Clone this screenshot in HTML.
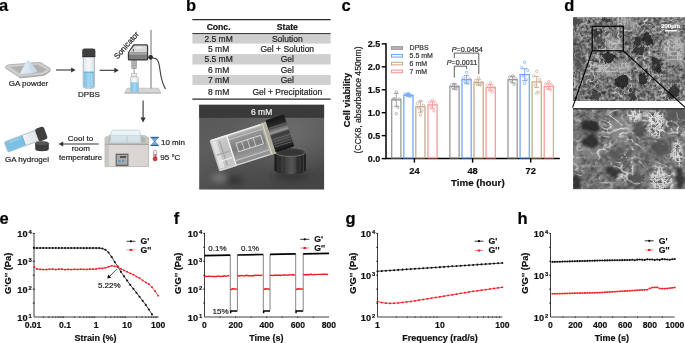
<!DOCTYPE html>
<html><head><meta charset="utf-8"><style>
html,body{margin:0;padding:0;background:#fff;}
body{width:685px;height:343px;overflow:hidden;}
svg{display:block;font-family:"Liberation Sans", sans-serif;filter:blur(0.3px);}
</style></head><body>
<svg width="685" height="343" viewBox="0 0 685 343">
<text x="-1.00" y="10.90" font-size="16.5" font-weight="bold" text-anchor="start" fill="#000" stroke="#000" stroke-width="0.2" >a</text>
<text x="185.90" y="10.90" font-size="16.5" font-weight="bold" text-anchor="start" fill="#000" stroke="#000" stroke-width="0.2" >b</text>
<text x="341.40" y="10.90" font-size="16.5" font-weight="bold" text-anchor="start" fill="#000" stroke="#000" stroke-width="0.2" >c</text>
<text x="564.30" y="10.90" font-size="16.5" font-weight="bold" text-anchor="start" fill="#000" stroke="#000" stroke-width="0.2" >d</text>
<text x="-0.60" y="223.50" font-size="16.5" font-weight="bold" text-anchor="start" fill="#000" stroke="#000" stroke-width="0.2" >e</text>
<text x="173.70" y="223.50" font-size="16.5" font-weight="bold" text-anchor="start" fill="#000" stroke="#000" stroke-width="0.2" >f</text>
<text x="345.40" y="223.50" font-size="16.5" font-weight="bold" text-anchor="start" fill="#000" stroke="#000" stroke-width="0.2" >g</text>
<text x="517.50" y="223.50" font-size="16.5" font-weight="bold" text-anchor="start" fill="#000" stroke="#000" stroke-width="0.2" >h</text>
<defs>
<linearGradient id="dishg" x1="0" y1="0" x2="0" y2="1">
  <stop offset="0" stop-color="#d4d4d4"/><stop offset="1" stop-color="#b4b4b4"/>
</linearGradient>
<linearGradient id="powg" x1="0" y1="0" x2="1" y2="0">
  <stop offset="0" stop-color="#e4edf6"/><stop offset="0.55" stop-color="#d6e4f2"/><stop offset="1" stop-color="#c2d4e8"/>
</linearGradient>
<linearGradient id="liqg" x1="0" y1="0" x2="1" y2="0">
  <stop offset="0" stop-color="#7cc0e6"/><stop offset="0.5" stop-color="#a6d6f0"/><stop offset="1" stop-color="#7cc0e6"/>
</linearGradient>
<linearGradient id="glassA" x1="0" y1="0" x2="1" y2="0">
  <stop offset="0" stop-color="#e2e6ea"/><stop offset="0.5" stop-color="#f6f8fa"/><stop offset="1" stop-color="#dde2e6"/>
</linearGradient>
<linearGradient id="bathg" x1="0" y1="0" x2="1" y2="0">
  <stop offset="0" stop-color="#cfccc8"/><stop offset="0.12" stop-color="#dedbd7"/><stop offset="1" stop-color="#d8d5d1"/>
</linearGradient>
<linearGradient id="lidg" x1="0" y1="0" x2="0" y2="1">
  <stop offset="0" stop-color="#eef5f7"/><stop offset="1" stop-color="#d2e6ec"/>
</linearGradient>
</defs>
<path d="M5.7,67 Q6,65.4 8,64.9 L38.5,62.4 Q40.5,62.3 42,63.3 L50.2,68.6 Q51.3,69.6 50,70.7 L45,74.1 Q44,74.9 42.5,75.1 L21,77.3 Q19.5,77.4 18.4,76.6 L6.5,68.9 Q5.5,68.1 5.7,67 Z" fill="#cdcdcd" stroke="#9c9c9c" stroke-width="0.7"/>
<path d="M10.5,67 L38,64.7 L46.6,69.5 L42,72.5 L21.2,74.6 Z" fill="#b0b0b0"/>
<path d="M21,77.3 L42.5,75.1 L45,74.1 L50,70.7 L50.6,71.3 L45.5,75 L42.6,76 L21,78.2 Q19.2,78.2 18.4,76.6 Z" fill="#a2a2a2"/>
<path d="M28,60.3 Q29,60.3 30.2,62.2 L37.4,71.4 L31.5,73.2 L19.7,74.2 L25.8,62.2 Q27,60.3 28,60.3 Z" fill="url(#powg)"/>
<path d="M28.4,60.5 L31.5,73.2 L37.4,71.4 L30.2,62.2 Z" fill="#c6d8ea" opacity="0.75"/>
<text x="28.50" y="86.20" font-size="8.0" font-weight="normal" text-anchor="middle" fill="#222" stroke="#222" stroke-width="0.2" >GA powder</text>
<line x1="56.0" y1="70.0" x2="72.1" y2="70.0" stroke="#333" stroke-width="1.1"/>
<path d="M75.6,70.0 L71.1,67.4 L71.1,72.6 Z" fill="#333"/>
<path d="M83.2,57 L94.4,57 L94.4,86 Q94.4,88.2 92.2,88.2 L85.4,88.2 Q83.2,88.2 83.2,86 Z" fill="url(#glassA)" stroke="#9aa0a6" stroke-width="0.7"/>
<path d="M83.6,72 L94,72 L94,86 Q94,87.8 92.2,87.8 L85.4,87.8 Q83.6,87.8 83.6,86 Z" fill="url(#liqg)"/>
<line x1="83.6" y1="72.1" x2="94" y2="72.1" stroke="#5aa6d6" stroke-width="0.9"/>
<line x1="91.8" y1="74" x2="91.8" y2="86" stroke="#d6eefa" stroke-width="0.6"/>
<path d="M82.2,50.8 Q82.2,48.6 84.6,48.6 L93,48.6 Q95.4,48.6 95.4,50.8 L95.4,56.9 L82.2,56.9 Z" fill="#3f3f3f"/>
<line x1="82.6" y1="56.6" x2="95" y2="56.6" stroke="#2a2a2a" stroke-width="0.8"/>
<text x="89.00" y="97.00" font-size="8.0" font-weight="normal" text-anchor="middle" fill="#222" stroke="#222" stroke-width="0.2" >DPBS</text>
<line x1="99.7" y1="70.3" x2="115.3" y2="70.3" stroke="#333" stroke-width="1.1"/>
<path d="M118.8,70.3 L114.3,67.7 L114.3,72.89999999999999 Z" fill="#333"/>
<path d="M124.6,92.8 L127,88.2 L158.5,88.2 L160.9,92.8 Z" fill="#d6d6d6" stroke="#a8a8a8" stroke-width="0.5"/>
<rect x="124.6" y="92.6" width="36.3" height="1.0" fill="#b0b0b0"/>
<rect x="150.4" y="29.8" width="1.6" height="59" fill="#b8b8b8"/>
<line x1="150.6" y1="30" x2="150.6" y2="88.5" stroke="#8e8e8e" stroke-width="0.4"/>
<path d="M152.5,58 C158,58 159,62 160,70 C161,78 162.5,84 165.5,89" fill="none" stroke="#3a3a3a" stroke-width="1.1"/>
<rect x="131.8" y="60.5" width="4.6" height="8.2" fill="#b8b8b8" stroke="#7a7a7a" stroke-width="0.5"/>
<line x1="132.5" y1="63" x2="135.7" y2="63" stroke="#888" stroke-width="0.5"/>
<line x1="132.5" y1="65.5" x2="135.7" y2="65.5" stroke="#888" stroke-width="0.5"/>
<line x1="134.1" y1="68.6" x2="134.1" y2="80" stroke="#888" stroke-width="0.8"/>
<rect x="131.6" y="73.6" width="5.2" height="3.2" fill="#e8ecef" stroke="#a0a6aa" stroke-width="0.5"/>
<path d="M130.4,78.2 Q130.4,76.7 132,76.7 L136.9,76.7 Q138.5,76.7 138.5,78.2 L138.5,91.6 Q138.5,92.5 137.6,92.5 L131.3,92.5 Q130.4,92.5 130.4,91.6 Z" fill="url(#glassA)" stroke="#a0a6aa" stroke-width="0.5"/>
<path d="M130.8,82.2 L138.1,82.2 L138.1,91.6 Q138.1,92.1 137.6,92.1 L131.3,92.1 Q130.8,92.1 130.8,91.6 Z" fill="url(#liqg)"/>
<path d="M134.2,44.3 L146.6,44.3 Q148.2,44.3 148.2,45.9 L148.2,59 Q148.2,60.5 146.6,60.5 L129.3,60.5 Q127.8,60.5 127.8,59 L127.8,53.4 Q127.8,52.4 128.5,51.5 L132.8,45 Q133.3,44.3 134.2,44.3 Z" fill="#3c3c3c"/>
<path d="M134.6,45.6 L146.4,45.6 Q146.9,45.6 146.9,46.2 L146.9,52.4 L129.1,52.4 L129.1,52.2 L133.8,46 Q134.1,45.6 134.6,45.6 Z" fill="#d9d9d9"/>
<rect x="129.1" y="52.4" width="17.8" height="6.8" fill="#7e7e7e"/>
<rect x="129.1" y="52.4" width="17.8" height="2.2" fill="#a8a8a8"/>
<rect x="135.5" y="47" width="7" height="1.6" fill="#eeeeee"/>
<line x1="133.4" y1="49" x2="133.4" y2="51.5" stroke="#333" stroke-width="0.8"/>
<circle cx="150.6" cy="57.3" r="2.4" fill="#2e2e2e"/>
<text transform="translate(117.4,59.4) rotate(-48.5)" font-size="7.9" fill="#222" stroke="#222" stroke-width="0.2">Sonicator</text>
<line x1="143.1" y1="100.5" x2="143.1" y2="118.5" stroke="#333" stroke-width="1.1"/>
<path d="M143.1,122.4 L140.5,117.6 L145.7,117.6 Z" fill="#333"/>
<path d="M105,137.6 L109.6,135.4 L144,135.4 L148.6,137.6 L148.6,166.6 L105,166.6 Z" fill="url(#bathg)" stroke="#a09d99" stroke-width="0.6"/>
<path d="M105,137.6 L109.6,135.4 L144,135.4 L148.6,137.6 L148.6,144.2 L105,144.2 Z" fill="#c9c7c4"/>
<path d="M108.8,138.2 L111.6,136.6 L142,136.6 L145.4,138.2 L145.4,142.6 L108.8,142.6 Z" fill="#b4b2af"/>
<line x1="105" y1="144.3" x2="148.6" y2="144.3" stroke="#8e8b88" stroke-width="0.8"/>
<rect x="105.3" y="144.7" width="3.6" height="21.6" fill="#c9c6c2"/>
<path d="M109.6,143 L111.2,131.6 Q111.6,130.2 113.2,130.2 L138.2,130.2 Q139.8,130.2 140.2,131.6 L141.4,143 Z" fill="url(#lidg)" stroke="#98b9c4" stroke-width="0.6" opacity="0.85"/>
<line x1="127" y1="136" x2="127" y2="142.8" stroke="#a6c4ce" stroke-width="0.6"/>
<line x1="112.4" y1="135.6" x2="139.6" y2="135.6" stroke="#b2cdd6" stroke-width="0.5"/>
<rect x="115.6" y="153.6" width="12.9" height="12.6" fill="#6a6a6a"/>
<rect x="116.8" y="155" width="10.5" height="9.6" fill="#a7a9ab"/>
<rect x="120" y="156" width="6" height="2" fill="#555"/>
<rect x="118.5" y="160.4" width="2" height="1.6" fill="#3f8fd0"/><rect x="122" y="160.4" width="2" height="1.6" fill="#3f8fd0"/>
<rect x="150.6" y="136.8" width="8.2" height="1.2" fill="#2f5f8f"/><rect x="150.6" y="144.8" width="8.2" height="1.2" fill="#2f5f8f"/>
<path d="M151.6,138 L157.8,138 L155.2,141.4 L157.8,144.8 L151.6,144.8 L154.2,141.4 Z" fill="#6ea8dc" stroke="#3d6f9f" stroke-width="0.5"/>
<text x="161.00" y="145.40" font-size="8.0" font-weight="normal" text-anchor="start" fill="#222" stroke="#222" stroke-width="0.2" >10 min</text>
<rect x="153.6" y="150" width="3" height="9" rx="1.5" fill="#f2f2f2" stroke="#7a7a7a" stroke-width="0.6"/>
<circle cx="155.1" cy="158.9" r="2.1" fill="#e0303a" stroke="#8a3a3a" stroke-width="0.5"/>
<rect x="154.5" y="154" width="1.2" height="4.5" fill="#e0303a"/>
<text x="160.30" y="160.00" font-size="8.0" font-weight="normal" text-anchor="start" fill="#222" stroke="#222" stroke-width="0.2" >95 °C</text>
<line x1="98.6" y1="144" x2="62" y2="144" stroke="#333" stroke-width="1.1"/>
<path d="M58.5,144 L63.2,141.4 L63.2,146.6 Z" fill="#333"/>
<text x="80.50" y="141.40" font-size="8.0" font-weight="normal" text-anchor="middle" fill="#222" stroke="#222" stroke-width="0.2" >Cool to</text>
<text x="80.80" y="150.80" font-size="8.0" font-weight="normal" text-anchor="middle" fill="#222" stroke="#222" stroke-width="0.2" >room</text>
<text x="80.60" y="160.40" font-size="8.0" font-weight="normal" text-anchor="middle" fill="#222" stroke="#222" stroke-width="0.2" >temperature</text>
<g transform="translate(7.4,146.6) rotate(-20.5)">
<path d="M0,-5.5 L32,-5.5 L32,5.5 L0,5.5 Q-1.4,5.5 -1.4,4 L-1.4,-4 Q-1.4,-5.5 0,-5.5 Z" fill="url(#glassA)" stroke="#9aa0a6" stroke-width="0.6"/>
<path d="M-1,-5.1 L17.5,-5.1 L17.5,5.1 L-1,5.1 Z" fill="#7cc0e6"/>
<line x1="17.5" y1="-5.1" x2="17.5" y2="5.1" stroke="#5aa6d6" stroke-width="0.7"/>
<line x1="3" y1="-3.2" x2="14" y2="-3.2" stroke="#b8e0f6" stroke-width="0.7"/>
<rect x="31.5" y="-6.6" width="9.4" height="13.2" rx="2.2" fill="#3f3f3f"/>
</g>
<path d="M35.2,143.6 L35.2,149 Q35.2,151.2 42,151.2 Q48.8,151.2 48.8,149 L48.8,143.6 Z" fill="#3c3c3c"/>
<ellipse cx="42" cy="143.6" rx="6.8" ry="2.2" fill="#555" stroke="#2a2a2a" stroke-width="0.5"/>
<text x="27.00" y="161.60" font-size="8.0" font-weight="normal" text-anchor="middle" fill="#222" stroke="#222" stroke-width="0.2" >GA hydrogel</text>
<rect x="192.4" y="34.1" width="138.2" height="9.5" fill="#cfcfcf"/>
<rect x="192.4" y="54.1" width="138.2" height="10.4" fill="#cfcfcf"/>
<rect x="192.4" y="74.9" width="138.2" height="10.0" fill="#cfcfcf"/>
<line x1="192.4" y1="19.6" x2="330.6" y2="19.6" stroke="#2a2a2a" stroke-width="1.2"/>
<line x1="192.4" y1="33.6" x2="330.6" y2="33.6" stroke="#2a2a2a" stroke-width="1.0"/>
<line x1="192.4" y1="99.1" x2="330.6" y2="99.1" stroke="#2a2a2a" stroke-width="1.2"/>
<text x="218.60" y="30.00" font-size="8.6" font-weight="bold" text-anchor="middle" fill="#111" stroke="#111" stroke-width="0.2" >Conc.</text>
<text x="287.30" y="30.00" font-size="8.6" font-weight="bold" text-anchor="middle" fill="#111" stroke="#111" stroke-width="0.2" >State</text>
<text x="218.60" y="41.80" font-size="8.5" font-weight="normal" text-anchor="middle" fill="#222" stroke="#222" stroke-width="0.2" >2.5 mM</text>
<text x="287.30" y="41.80" font-size="8.5" font-weight="normal" text-anchor="middle" fill="#222" stroke="#222" stroke-width="0.2" >Solution</text>
<text x="218.60" y="52.00" font-size="8.5" font-weight="normal" text-anchor="middle" fill="#222" stroke="#222" stroke-width="0.2" >5 mM</text>
<text x="287.30" y="52.00" font-size="8.5" font-weight="normal" text-anchor="middle" fill="#222" stroke="#222" stroke-width="0.2" >Gel + Solution</text>
<text x="218.60" y="62.30" font-size="8.5" font-weight="normal" text-anchor="middle" fill="#222" stroke="#222" stroke-width="0.2" >5.5 mM</text>
<text x="287.30" y="62.30" font-size="8.5" font-weight="normal" text-anchor="middle" fill="#222" stroke="#222" stroke-width="0.2" >Gel</text>
<text x="218.60" y="72.70" font-size="8.5" font-weight="normal" text-anchor="middle" fill="#222" stroke="#222" stroke-width="0.2" >6 mM</text>
<text x="287.30" y="72.70" font-size="8.5" font-weight="normal" text-anchor="middle" fill="#222" stroke="#222" stroke-width="0.2" >Gel</text>
<text x="218.60" y="83.00" font-size="8.5" font-weight="normal" text-anchor="middle" fill="#222" stroke="#222" stroke-width="0.2" >7 mM</text>
<text x="287.30" y="83.00" font-size="8.5" font-weight="normal" text-anchor="middle" fill="#222" stroke="#222" stroke-width="0.2" >Gel</text>
<text x="218.60" y="95.10" font-size="8.5" font-weight="normal" text-anchor="middle" fill="#222" stroke="#222" stroke-width="0.2" >8 mM</text>
<text x="287.30" y="95.10" font-size="8.5" font-weight="normal" text-anchor="middle" fill="#222" stroke="#222" stroke-width="0.2" >Gel + Precipitation</text>
<defs>
<linearGradient id="phbg" x1="0" y1="0" x2="0.6" y2="1">
  <stop offset="0" stop-color="#565656"/>
  <stop offset="0.4" stop-color="#5e5e5e"/>
  <stop offset="1" stop-color="#454545"/>
</linearGradient>
<linearGradient id="glass" x1="0" y1="0" x2="0" y2="1">
  <stop offset="0" stop-color="#d4d4d4"/>
  <stop offset="0.15" stop-color="#a0a0a0"/>
  <stop offset="0.5" stop-color="#7e7e7e"/>
  <stop offset="0.8" stop-color="#a0a0a0"/>
  <stop offset="1" stop-color="#8e8e8e"/>
</linearGradient>
<linearGradient id="capg" x1="0" y1="0" x2="0" y2="1">
  <stop offset="0" stop-color="#161616"/>
  <stop offset="0.2" stop-color="#262626"/>
  <stop offset="0.32" stop-color="#5a5a5a"/>
  <stop offset="0.42" stop-color="#9a9a9a"/>
  <stop offset="0.5" stop-color="#3a3a3a"/>
  <stop offset="0.62" stop-color="#4a4a4a"/>
  <stop offset="0.85" stop-color="#2a2a2a"/>
  <stop offset="1" stop-color="#111"/>
</linearGradient>
<linearGradient id="cap2" x1="0" y1="0" x2="1" y2="0">
  <stop offset="0" stop-color="#1b1b1b"/>
  <stop offset="0.35" stop-color="#3c3c3c"/>
  <stop offset="0.55" stop-color="#5a5a5a"/>
  <stop offset="0.75" stop-color="#2b2b2b"/>
  <stop offset="1" stop-color="#202020"/>
</linearGradient>
<radialGradient id="phl" cx="0.75" cy="0.35" r="0.5">
  <stop offset="0" stop-color="#7a7a7a" stop-opacity="0.6"/>
  <stop offset="1" stop-color="#7a7a7a" stop-opacity="0"/>
</radialGradient>
<clipPath id="phc"><rect x="199.1" y="104.6" width="125.2" height="85.1"/></clipPath>
<filter id="pb1" x="-50%" y="-50%" width="200%" height="200%"><feGaussianBlur stdDeviation="0.6"/></filter>
<filter id="pb3" x="-100%" y="-100%" width="300%" height="300%"><feGaussianBlur stdDeviation="3"/></filter>
</defs>
<g clip-path="url(#phc)">
<rect x="199.1" y="104.6" width="125.2" height="85.1" fill="url(#phbg)"/>
<rect x="199.1" y="104.6" width="125.2" height="85.1" fill="url(#phl)"/>
<rect x="199.1" y="104.6" width="125.2" height="13.2" fill="#3a3a3a"/>
<ellipse cx="234" cy="180" rx="9" ry="5" fill="#2e2e2e" filter="url(#pb3)" opacity="0.8"/>
<ellipse cx="220" cy="178" rx="8" ry="4" fill="#a0a0a0" filter="url(#pb3)" opacity="0.55"/>
<ellipse cx="291" cy="176" rx="17" ry="4" fill="#2a2a2a" filter="url(#pb3)" opacity="0.7"/>
<path d="M274.4,152 V170 A15.8,4.2 0 0 0 306,170 V152 Z" fill="url(#cap2)"/>
<line x1="278" y1="155" x2="278" y2="172" stroke="#4c4c4c" stroke-width="0.8" opacity="0.8"/>
<line x1="282" y1="155" x2="282" y2="172" stroke="#4c4c4c" stroke-width="0.8" opacity="0.8"/>
<line x1="286.5" y1="155" x2="286.5" y2="172" stroke="#4c4c4c" stroke-width="0.8" opacity="0.8"/>
<line x1="291" y1="155" x2="291" y2="172" stroke="#4c4c4c" stroke-width="0.8" opacity="0.8"/>
<line x1="295.5" y1="155" x2="295.5" y2="172" stroke="#4c4c4c" stroke-width="0.8" opacity="0.8"/>
<line x1="300" y1="155" x2="300" y2="172" stroke="#4c4c4c" stroke-width="0.8" opacity="0.8"/>
<line x1="303.5" y1="155" x2="303.5" y2="172" stroke="#4c4c4c" stroke-width="0.8" opacity="0.8"/>
<ellipse cx="290.2" cy="152" rx="15.8" ry="4.4" fill="#404040" stroke="#7a7a7a" stroke-width="0.8"/>
<ellipse cx="290.2" cy="152.6" rx="12.5" ry="3" fill="#353535"/>
<g transform="translate(214.8,155.8) rotate(-17.8)">
<rect x="0" y="-16.4" width="60" height="32.8" rx="1.5" fill="url(#glass)" opacity="0.92"/>
<rect x="-0.5" y="-16.4" width="18" height="32.8" rx="1.5" fill="#d6d6d6" opacity="0.75"/>
<rect x="1" y="-14" width="5" height="28" fill="#f2f2f2" opacity="0.6"/>
<line x1="17.5" y1="-16" x2="17.5" y2="16" stroke="#f8f8f8" stroke-width="1.3"/>
<line x1="9" y1="-13" x2="9" y2="13" stroke="#9a9a9a" stroke-width="0.9"/>
<line x1="2" y1="0" x2="16" y2="0" stroke="#a8a8a8" stroke-width="1.4"/>
<line x1="2" y1="7" x2="16" y2="7" stroke="#f4f4f4" stroke-width="1"/>
<line x1="1" y1="-15.6" x2="59" y2="-15.6" stroke="#f2f2f2" stroke-width="1.3"/>
<line x1="18" y1="-11" x2="58" y2="-11" stroke="#d0d0d0" stroke-width="0.8"/>
<line x1="1" y1="15.6" x2="59" y2="15.6" stroke="#dadada" stroke-width="1.1"/>
<line x1="18" y1="11" x2="58" y2="11" stroke="#c8c8c8" stroke-width="0.9"/>
<rect x="24" y="-5.5" width="26" height="9" fill="none" stroke="#e4e4e4" stroke-width="0.8"/>
<line x1="30" y1="-5.5" x2="30" y2="3.5" stroke="#dcdcdc" stroke-width="0.7"/>
<line x1="36" y1="-5.5" x2="36" y2="3.5" stroke="#dcdcdc" stroke-width="0.7"/>
<line x1="42" y1="-5.5" x2="42" y2="3.5" stroke="#dcdcdc" stroke-width="0.7"/>
<rect x="53" y="-16.8" width="6.5" height="33.2" fill="#b4b1a2" opacity="0.85"/>
<line x1="55" y1="-16" x2="55" y2="16" stroke="#e8e4d2" stroke-width="0.8"/>
<rect x="59" y="-18.2" width="19.5" height="33.6" rx="1.2" fill="url(#capg)"/>
<line x1="60" y1="-9.5" x2="78" y2="-9.5" stroke="#7a7a7a" stroke-width="0.7" opacity="0.8"/>
<line x1="60" y1="-7" x2="78" y2="-7" stroke="#7a7a7a" stroke-width="0.7" opacity="0.8"/>
<line x1="60" y1="2.5" x2="78" y2="2.5" stroke="#7a7a7a" stroke-width="0.7" opacity="0.8"/>
<line x1="60" y1="5" x2="78" y2="5" stroke="#7a7a7a" stroke-width="0.7" opacity="0.8"/>
<line x1="60" y1="7.5" x2="78" y2="7.5" stroke="#7a7a7a" stroke-width="0.7" opacity="0.8"/>
<line x1="60" y1="10" x2="78" y2="10" stroke="#7a7a7a" stroke-width="0.7" opacity="0.8"/>
</g>
</g>
<text x="261.60" y="115.30" font-size="8.5" font-weight="normal" text-anchor="middle" fill="#f2f2f2" stroke="#f2f2f2" stroke-width="0.2" >6 mM</text>
<path d="M386.0,43.25 V158.60 H559.8" fill="none" stroke="#000" stroke-width="1.5"/>
<line x1="381.7" y1="158.60" x2="386.0" y2="158.60" stroke="#000" stroke-width="1.4"/>
<text x="380.20" y="161.90" font-size="9.0" font-weight="bold" text-anchor="end" fill="#111" stroke="#111" stroke-width="0.2" >0.0</text>
<line x1="381.7" y1="135.65" x2="386.0" y2="135.65" stroke="#000" stroke-width="1.4"/>
<text x="380.20" y="138.95" font-size="9.0" font-weight="bold" text-anchor="end" fill="#111" stroke="#111" stroke-width="0.2" >0.5</text>
<line x1="381.7" y1="112.70" x2="386.0" y2="112.70" stroke="#000" stroke-width="1.4"/>
<text x="380.20" y="116.00" font-size="9.0" font-weight="bold" text-anchor="end" fill="#111" stroke="#111" stroke-width="0.2" >1.0</text>
<line x1="381.7" y1="89.75" x2="386.0" y2="89.75" stroke="#000" stroke-width="1.4"/>
<text x="380.20" y="93.05" font-size="9.0" font-weight="bold" text-anchor="end" fill="#111" stroke="#111" stroke-width="0.2" >1.5</text>
<line x1="381.7" y1="66.80" x2="386.0" y2="66.80" stroke="#000" stroke-width="1.4"/>
<text x="380.20" y="70.10" font-size="9.0" font-weight="bold" text-anchor="end" fill="#111" stroke="#111" stroke-width="0.2" >2.0</text>
<line x1="381.7" y1="43.85" x2="386.0" y2="43.85" stroke="#000" stroke-width="1.4"/>
<text x="380.20" y="47.15" font-size="9.0" font-weight="bold" text-anchor="end" fill="#111" stroke="#111" stroke-width="0.2" >2.5</text>
<line x1="414.4" y1="158.6" x2="414.4" y2="162.6" stroke="#000" stroke-width="1.4"/>
<text x="414.40" y="173.50" font-size="9.3" font-weight="bold" text-anchor="middle" fill="#111" stroke="#111" stroke-width="0.2" >24</text>
<line x1="472.6" y1="158.6" x2="472.6" y2="162.6" stroke="#000" stroke-width="1.4"/>
<text x="472.60" y="173.50" font-size="9.3" font-weight="bold" text-anchor="middle" fill="#111" stroke="#111" stroke-width="0.2" >48</text>
<line x1="530.7" y1="158.6" x2="530.7" y2="162.6" stroke="#000" stroke-width="1.4"/>
<text x="530.70" y="173.50" font-size="9.3" font-weight="bold" text-anchor="middle" fill="#111" stroke="#111" stroke-width="0.2" >72</text>
<text x="477.80" y="185.90" font-size="9.8" font-weight="bold" text-anchor="middle" fill="#111" stroke="#111" stroke-width="0.2" >Time (hour)</text>
<text transform="translate(350.2,100.0) rotate(-90)" font-size="9.3" font-weight="bold" text-anchor="middle" fill="#111" stroke="#111" stroke-width="0.2">Cell viability</text>
<text transform="translate(361.0,100.0) rotate(-90)" font-size="8.6" text-anchor="middle" fill="#222" stroke="#222" stroke-width="0.2">(CCK8, absorbance 450nm)</text>
<rect x="391.70" y="99.85" width="9.2" height="57.95" fill="#fff" stroke="#9a9a9a" stroke-width="1.3"/>
<path d="M396.30,99.85 V93.42 M393.80,93.42 H398.80 M396.30,99.85 V106.27 M393.80,106.27 H398.80" stroke="#9a9a9a" stroke-width="0.9" fill="none"/>
<circle cx="396.30" cy="92.05" r="1.25" fill="none" stroke="#9a9a9a" stroke-width="0.7"/>
<circle cx="393.30" cy="98.93" r="1.25" fill="none" stroke="#9a9a9a" stroke-width="0.7"/>
<circle cx="399.30" cy="98.93" r="1.25" fill="none" stroke="#9a9a9a" stroke-width="0.7"/>
<circle cx="394.80" cy="98.93" r="1.25" fill="none" stroke="#9a9a9a" stroke-width="0.7"/>
<circle cx="397.80" cy="107.19" r="1.25" fill="none" stroke="#9a9a9a" stroke-width="0.7"/>
<circle cx="396.30" cy="113.62" r="1.25" fill="none" stroke="#9a9a9a" stroke-width="0.7"/>
<rect x="403.80" y="95.26" width="9.2" height="62.54" fill="#fff" stroke="#76a9f5" stroke-width="1.3"/>
<path d="M408.40,95.26 V93.88 M405.90,93.88 H410.90 M408.40,95.26 V96.64 M405.90,96.64 H410.90" stroke="#76a9f5" stroke-width="0.9" fill="none"/>
<circle cx="408.40" cy="94.34" r="1.25" fill="none" stroke="#76a9f5" stroke-width="0.7"/>
<circle cx="405.40" cy="93.88" r="1.25" fill="none" stroke="#76a9f5" stroke-width="0.7"/>
<circle cx="411.40" cy="95.72" r="1.25" fill="none" stroke="#76a9f5" stroke-width="0.7"/>
<circle cx="406.90" cy="94.80" r="1.25" fill="none" stroke="#76a9f5" stroke-width="0.7"/>
<circle cx="409.90" cy="96.18" r="1.25" fill="none" stroke="#76a9f5" stroke-width="0.7"/>
<circle cx="408.40" cy="93.42" r="1.25" fill="none" stroke="#76a9f5" stroke-width="0.7"/>
<rect x="415.80" y="106.73" width="9.2" height="51.07" fill="#fff" stroke="#c9aa8f" stroke-width="1.3"/>
<path d="M420.40,106.73 V101.22 M417.90,101.22 H422.90 M420.40,106.73 V112.24 M417.90,112.24 H422.90" stroke="#c9aa8f" stroke-width="0.9" fill="none"/>
<circle cx="420.40" cy="101.22" r="1.25" fill="none" stroke="#c9aa8f" stroke-width="0.7"/>
<circle cx="417.40" cy="103.52" r="1.25" fill="none" stroke="#c9aa8f" stroke-width="0.7"/>
<circle cx="423.40" cy="105.36" r="1.25" fill="none" stroke="#c9aa8f" stroke-width="0.7"/>
<circle cx="418.90" cy="108.11" r="1.25" fill="none" stroke="#c9aa8f" stroke-width="0.7"/>
<circle cx="421.90" cy="110.41" r="1.25" fill="none" stroke="#c9aa8f" stroke-width="0.7"/>
<circle cx="420.40" cy="115.00" r="1.25" fill="none" stroke="#c9aa8f" stroke-width="0.7"/>
<rect x="427.90" y="104.90" width="9.2" height="52.90" fill="#fff" stroke="#f59c9c" stroke-width="1.3"/>
<path d="M432.50,104.90 V101.22 M430.00,101.22 H435.00 M432.50,104.90 V108.57 M430.00,108.57 H435.00" stroke="#f59c9c" stroke-width="0.9" fill="none"/>
<circle cx="432.50" cy="100.31" r="1.25" fill="none" stroke="#f59c9c" stroke-width="0.7"/>
<circle cx="429.50" cy="102.14" r="1.25" fill="none" stroke="#f59c9c" stroke-width="0.7"/>
<circle cx="435.50" cy="103.52" r="1.25" fill="none" stroke="#f59c9c" stroke-width="0.7"/>
<circle cx="431.00" cy="107.19" r="1.25" fill="none" stroke="#f59c9c" stroke-width="0.7"/>
<circle cx="434.00" cy="110.86" r="1.25" fill="none" stroke="#f59c9c" stroke-width="0.7"/>
<rect x="449.90" y="86.54" width="9.2" height="71.26" fill="#fff" stroke="#9a9a9a" stroke-width="1.3"/>
<path d="M454.50,86.54 V83.78 M452.00,83.78 H457.00 M454.50,86.54 V89.29 M452.00,89.29 H457.00" stroke="#9a9a9a" stroke-width="0.9" fill="none"/>
<circle cx="454.50" cy="84.24" r="1.25" fill="none" stroke="#9a9a9a" stroke-width="0.7"/>
<circle cx="451.50" cy="85.16" r="1.25" fill="none" stroke="#9a9a9a" stroke-width="0.7"/>
<circle cx="457.50" cy="86.54" r="1.25" fill="none" stroke="#9a9a9a" stroke-width="0.7"/>
<circle cx="453.00" cy="87.45" r="1.25" fill="none" stroke="#9a9a9a" stroke-width="0.7"/>
<circle cx="456.00" cy="88.83" r="1.25" fill="none" stroke="#9a9a9a" stroke-width="0.7"/>
<rect x="462.00" y="79.65" width="9.2" height="78.15" fill="#fff" stroke="#76a9f5" stroke-width="1.3"/>
<path d="M466.60,79.65 V75.52 M464.10,75.52 H469.10 M466.60,79.65 V83.78 M464.10,83.78 H469.10" stroke="#76a9f5" stroke-width="0.9" fill="none"/>
<circle cx="466.60" cy="72.31" r="1.25" fill="none" stroke="#76a9f5" stroke-width="0.7"/>
<circle cx="463.60" cy="77.82" r="1.25" fill="none" stroke="#76a9f5" stroke-width="0.7"/>
<circle cx="469.60" cy="79.19" r="1.25" fill="none" stroke="#76a9f5" stroke-width="0.7"/>
<circle cx="465.10" cy="81.49" r="1.25" fill="none" stroke="#76a9f5" stroke-width="0.7"/>
<circle cx="468.10" cy="82.86" r="1.25" fill="none" stroke="#76a9f5" stroke-width="0.7"/>
<rect x="474.00" y="82.41" width="9.2" height="75.39" fill="#fff" stroke="#c9aa8f" stroke-width="1.3"/>
<path d="M478.60,82.41 V79.65 M476.10,79.65 H481.10 M478.60,82.41 V85.16 M476.10,85.16 H481.10" stroke="#c9aa8f" stroke-width="0.9" fill="none"/>
<circle cx="478.60" cy="77.82" r="1.25" fill="none" stroke="#c9aa8f" stroke-width="0.7"/>
<circle cx="475.60" cy="80.57" r="1.25" fill="none" stroke="#c9aa8f" stroke-width="0.7"/>
<circle cx="481.60" cy="82.86" r="1.25" fill="none" stroke="#c9aa8f" stroke-width="0.7"/>
<circle cx="477.10" cy="84.24" r="1.25" fill="none" stroke="#c9aa8f" stroke-width="0.7"/>
<circle cx="480.10" cy="85.16" r="1.25" fill="none" stroke="#c9aa8f" stroke-width="0.7"/>
<rect x="486.10" y="87.45" width="9.2" height="70.34" fill="#fff" stroke="#f59c9c" stroke-width="1.3"/>
<path d="M490.70,87.45 V84.70 M488.20,84.70 H493.20 M490.70,87.45 V90.21 M488.20,90.21 H493.20" stroke="#f59c9c" stroke-width="0.9" fill="none"/>
<circle cx="490.70" cy="82.86" r="1.25" fill="none" stroke="#f59c9c" stroke-width="0.7"/>
<circle cx="487.70" cy="85.16" r="1.25" fill="none" stroke="#f59c9c" stroke-width="0.7"/>
<circle cx="493.70" cy="87.45" r="1.25" fill="none" stroke="#f59c9c" stroke-width="0.7"/>
<circle cx="489.20" cy="89.75" r="1.25" fill="none" stroke="#f59c9c" stroke-width="0.7"/>
<circle cx="492.20" cy="92.05" r="1.25" fill="none" stroke="#f59c9c" stroke-width="0.7"/>
<rect x="508.00" y="79.65" width="9.2" height="78.15" fill="#fff" stroke="#9a9a9a" stroke-width="1.3"/>
<path d="M512.60,79.65 V76.44 M510.10,76.44 H515.10 M512.60,79.65 V82.86 M510.10,82.86 H515.10" stroke="#9a9a9a" stroke-width="0.9" fill="none"/>
<circle cx="512.60" cy="75.98" r="1.25" fill="none" stroke="#9a9a9a" stroke-width="0.7"/>
<circle cx="509.60" cy="76.90" r="1.25" fill="none" stroke="#9a9a9a" stroke-width="0.7"/>
<circle cx="515.60" cy="78.73" r="1.25" fill="none" stroke="#9a9a9a" stroke-width="0.7"/>
<circle cx="511.10" cy="80.57" r="1.25" fill="none" stroke="#9a9a9a" stroke-width="0.7"/>
<circle cx="514.10" cy="84.24" r="1.25" fill="none" stroke="#9a9a9a" stroke-width="0.7"/>
<rect x="520.10" y="74.60" width="9.2" height="83.20" fill="#fff" stroke="#76a9f5" stroke-width="1.3"/>
<path d="M524.70,74.60 V68.64 M522.20,68.64 H527.20 M524.70,74.60 V80.57 M522.20,80.57 H527.20" stroke="#76a9f5" stroke-width="0.9" fill="none"/>
<circle cx="524.70" cy="62.21" r="1.25" fill="none" stroke="#76a9f5" stroke-width="0.7"/>
<circle cx="521.70" cy="67.72" r="1.25" fill="none" stroke="#76a9f5" stroke-width="0.7"/>
<circle cx="527.70" cy="70.47" r="1.25" fill="none" stroke="#76a9f5" stroke-width="0.7"/>
<circle cx="523.20" cy="75.98" r="1.25" fill="none" stroke="#76a9f5" stroke-width="0.7"/>
<circle cx="526.20" cy="79.65" r="1.25" fill="none" stroke="#76a9f5" stroke-width="0.7"/>
<circle cx="524.70" cy="83.32" r="1.25" fill="none" stroke="#76a9f5" stroke-width="0.7"/>
<rect x="532.10" y="81.95" width="9.2" height="75.85" fill="#fff" stroke="#c9aa8f" stroke-width="1.3"/>
<path d="M536.70,81.95 V76.44 M534.20,76.44 H539.20 M536.70,81.95 V87.45 M534.20,87.45 H539.20" stroke="#c9aa8f" stroke-width="0.9" fill="none"/>
<circle cx="536.70" cy="71.39" r="1.25" fill="none" stroke="#c9aa8f" stroke-width="0.7"/>
<circle cx="533.70" cy="75.98" r="1.25" fill="none" stroke="#c9aa8f" stroke-width="0.7"/>
<circle cx="539.70" cy="79.65" r="1.25" fill="none" stroke="#c9aa8f" stroke-width="0.7"/>
<circle cx="535.20" cy="85.16" r="1.25" fill="none" stroke="#c9aa8f" stroke-width="0.7"/>
<circle cx="538.20" cy="92.05" r="1.25" fill="none" stroke="#c9aa8f" stroke-width="0.7"/>
<circle cx="536.70" cy="93.42" r="1.25" fill="none" stroke="#c9aa8f" stroke-width="0.7"/>
<rect x="544.20" y="86.54" width="9.2" height="71.26" fill="#fff" stroke="#f59c9c" stroke-width="1.3"/>
<path d="M548.80,86.54 V83.78 M546.30,83.78 H551.30 M548.80,86.54 V89.29 M546.30,89.29 H551.30" stroke="#f59c9c" stroke-width="0.9" fill="none"/>
<circle cx="548.80" cy="81.49" r="1.25" fill="none" stroke="#f59c9c" stroke-width="0.7"/>
<circle cx="545.80" cy="83.78" r="1.25" fill="none" stroke="#f59c9c" stroke-width="0.7"/>
<circle cx="551.80" cy="85.16" r="1.25" fill="none" stroke="#f59c9c" stroke-width="0.7"/>
<circle cx="547.30" cy="87.45" r="1.25" fill="none" stroke="#f59c9c" stroke-width="0.7"/>
<circle cx="550.30" cy="89.75" r="1.25" fill="none" stroke="#f59c9c" stroke-width="0.7"/>
<rect x="391.5" y="46.70" width="11.0" height="2.6" fill="#bbb" stroke="#9a9a9a" stroke-width="1.1"/>
<text x="409.60" y="50.30" font-size="7.0" font-weight="normal" text-anchor="start" fill="#333" stroke="#333" stroke-width="0.2" >DPBS</text>
<rect x="391.5" y="54.50" width="11.0" height="2.6" fill="#fff" stroke="#76a9f5" stroke-width="1.1"/>
<text x="409.60" y="58.10" font-size="7.0" font-weight="normal" text-anchor="start" fill="#333" stroke="#333" stroke-width="0.2" >5.5 mM</text>
<rect x="391.5" y="62.30" width="11.0" height="2.6" fill="#fff" stroke="#c9aa8f" stroke-width="1.1"/>
<text x="409.60" y="65.90" font-size="7.0" font-weight="normal" text-anchor="start" fill="#333" stroke="#333" stroke-width="0.2" >6 mM</text>
<rect x="391.5" y="70.10" width="11.0" height="2.6" fill="#fff" stroke="#f59c9c" stroke-width="1.1"/>
<text x="409.60" y="73.70" font-size="7.0" font-weight="normal" text-anchor="start" fill="#333" stroke="#333" stroke-width="0.2" >7 mM</text>
<path d="M454.3,77.6 V66.2 H466.6 V68.9" fill="none" stroke="#333" stroke-width="0.8"/>
<path d="M454.3,58.0 V53.1 H478.8 V74.1" fill="none" stroke="#333" stroke-width="0.8"/>
<text x="446.8" y="64.5" font-size="7.2" fill="#2a2a2a" stroke="#2a2a2a" stroke-width="0.2"><tspan font-style="italic">P</tspan>=0.0011</text>
<text x="451.7" y="52.2" font-size="7.2" fill="#2a2a2a" stroke="#2a2a2a" stroke-width="0.2"><tspan font-style="italic">P</tspan>=0.0454</text>
<defs>
<filter id="semMid" x="0" y="0" width="1" height="1" filterUnits="objectBoundingBox" color-interpolation-filters="sRGB">
  <feTurbulence type="fractalNoise" baseFrequency="0.22" numOctaves="3" seed="2" result="n"/>
  <feColorMatrix in="n" type="matrix" values="0.33 0.33 0.33 0 0  0.33 0.33 0.33 0 0  0.33 0.33 0.33 0 0  0 0 0 0 1" result="g"/>
  <feComponentTransfer in="g"><feFuncR type="linear" slope="2.2" intercept="-0.6"/><feFuncG type="linear" slope="2.2" intercept="-0.6"/><feFuncB type="linear" slope="2.2" intercept="-0.6"/></feComponentTransfer>
</filter>
<filter id="semVein1" x="0" y="0" width="1" height="1" filterUnits="objectBoundingBox" color-interpolation-filters="sRGB">
  <feTurbulence type="turbulence" baseFrequency="0.16" numOctaves="2" seed="4" result="t"/>
  <feColorMatrix in="t" type="matrix" values="0 0 0 0 1  0 0 0 0 1  0 0 0 0 1  -6 0 0 0 1.3" result="v"/>
  <feTurbulence type="fractalNoise" baseFrequency="0.06" numOctaves="2" seed="17" result="m"/>
  <feColorMatrix in="m" type="matrix" values="0 0 0 0 0  0 0 0 0 0  0 0 0 0 0  3 0 0 0 -0.9" result="ma"/>
  <feComposite in="v" in2="ma" operator="in"/>
</filter>
<filter id="semVein2" x="0" y="0" width="1" height="1" filterUnits="objectBoundingBox" color-interpolation-filters="sRGB">
  <feTurbulence type="turbulence" baseFrequency="0.09 0.12" numOctaves="2" seed="12" result="t"/>
  <feColorMatrix in="t" type="matrix" values="0 0 0 0 1  0 0 0 0 1  0 0 0 0 1  -6 0 0 0 1.25" result="v"/>
  <feTurbulence type="fractalNoise" baseFrequency="0.05" numOctaves="2" seed="23" result="m"/>
  <feColorMatrix in="m" type="matrix" values="0 0 0 0 0  0 0 0 0 0  0 0 0 0 0  3 0 0 0 -1.0" result="ma"/>
  <feComposite in="v" in2="ma" operator="in"/>
</filter>
<filter id="blobF" x="-50%" y="-50%" width="200%" height="200%" color-interpolation-filters="sRGB">
  <feTurbulence type="fractalNoise" baseFrequency="0.15" numOctaves="3" seed="5" result="t"/>
  <feDisplacementMap in="SourceGraphic" in2="t" scale="9" xChannelSelector="R" yChannelSelector="G" result="d"/>
  <feGaussianBlur in="d" stdDeviation="0.45"/>
</filter>
<filter id="semMid2" x="0" y="0" width="1" height="1" filterUnits="objectBoundingBox" color-interpolation-filters="sRGB">
  <feTurbulence type="fractalNoise" baseFrequency="0.35" numOctaves="3" seed="9" result="n"/>
  <feColorMatrix in="n" type="matrix" values="0.33 0.33 0.33 0 0  0.33 0.33 0.33 0 0  0.33 0.33 0.33 0 0  0 0 0 0 1" result="g"/>
  <feComponentTransfer in="g"><feFuncR type="linear" slope="3" intercept="-1.0"/><feFuncG type="linear" slope="3" intercept="-1.0"/><feFuncB type="linear" slope="3" intercept="-1.0"/></feComponentTransfer>
</filter>
<filter id="blobF2" x="-50%" y="-50%" width="200%" height="200%" color-interpolation-filters="sRGB">
  <feTurbulence type="fractalNoise" baseFrequency="0.08" numOctaves="2" seed="8" result="t"/>
  <feDisplacementMap in="SourceGraphic" in2="t" scale="9" xChannelSelector="R" yChannelSelector="G" result="d"/>
  <feGaussianBlur in="d" stdDeviation="1.3"/>
</filter>
<filter id="fibF" x="-50%" y="-50%" width="200%" height="200%" color-interpolation-filters="sRGB">
  <feTurbulence type="fractalNoise" baseFrequency="0.1" numOctaves="2" seed="6" result="t"/>
  <feDisplacementMap in="SourceGraphic" in2="t" scale="10" xChannelSelector="R" yChannelSelector="G" result="d"/>
  <feGaussianBlur in="d" stdDeviation="1.5" result="b"/>
  <feTurbulence type="turbulence" baseFrequency="0.25" numOctaves="2" seed="31" result="t2"/>
  <feColorMatrix in="t2" type="matrix" values="0 0 0 0 0  0 0 0 0 0  0 0 0 0 0  -4 0 0 0 1.6" result="m"/>
  <feComposite in="b" in2="m" operator="in"/>
</filter>
<clipPath id="semc1"><rect x="573" y="17.2" width="112" height="83.8"/></clipPath>
<clipPath id="semc2"><rect x="573" y="107.9" width="112" height="81.4"/></clipPath>
</defs>
<g clip-path="url(#semc1)">
<rect x="573" y="17.2" width="112" height="83.8" fill="#727272"/>
<rect x="573" y="17.2" width="112" height="83.8" filter="url(#semMid)" opacity="0.45"/>
<rect x="573" y="17.2" width="112" height="83.8" filter="url(#semMid2)" opacity="0.4"/>
<g filter="url(#blobF2)">
<ellipse cx="613.5" cy="44" rx="8.5" ry="7" fill="#9a9a9a" opacity="0.8"/>
<ellipse cx="608.5" cy="69.6" rx="13.5" ry="6" fill="#9c9c9c" opacity="0.8"/>
<ellipse cx="623.5" cy="67" rx="6.5" ry="6" fill="#9a9a9a" opacity="0.8"/>
<ellipse cx="626" cy="22" rx="4" ry="5" fill="#999" opacity="0.8"/>
<ellipse cx="674.5" cy="48.8" rx="10.5" ry="17" fill="#989898" opacity="0.8"/>
<ellipse cx="633.5" cy="24.4" rx="3.5" ry="7" fill="#999" opacity="0.8"/>
<ellipse cx="579" cy="60" rx="6" ry="16" fill="#555" opacity="0.8"/>
</g>
<g filter="url(#fibF)">
<ellipse cx="613.5" cy="44" rx="7.5" ry="6" fill="#e8e8e8" opacity="0.6"/>
<ellipse cx="608.5" cy="69.6" rx="12.5" ry="5" fill="#e8e8e8" opacity="0.6"/>
<ellipse cx="623.5" cy="67" rx="5.5" ry="5" fill="#e8e8e8" opacity="0.6"/>
<ellipse cx="674.5" cy="48.8" rx="9.5" ry="15" fill="#e8e8e8" opacity="0.6"/>
<ellipse cx="626" cy="22" rx="4" ry="4.5" fill="#e8e8e8" opacity="0.6"/>
</g>
<rect x="573" y="17.2" width="112" height="83.8" filter="url(#semVein1)" opacity="0.6"/>
<rect x="573" y="17.2" width="112" height="83.8" fill="#000" opacity="0.07"/>
<g filter="url(#blobF)">
<ellipse cx="576.5" cy="22" rx="4" ry="5" fill="#454545" opacity="0.85"/>
<ellipse cx="607" cy="20.5" rx="5" ry="3.5" fill="#3a3a3a" opacity="0.85"/>
<ellipse cx="597" cy="33" rx="3.5" ry="4" fill="#2e2e2e" opacity="0.85"/>
<ellipse cx="600.5" cy="42" rx="4.5" ry="3" fill="#4a4a4a" opacity="0.85"/>
<ellipse cx="607" cy="57.5" rx="7" ry="5" fill="#222" opacity="0.85"/>
<ellipse cx="621.8" cy="82" rx="7" ry="6" fill="#1e1e1e" opacity="0.85"/>
<ellipse cx="595" cy="94.5" rx="5" ry="6" fill="#3a3a3a" opacity="0.85"/>
<ellipse cx="647" cy="38.3" rx="5" ry="7" fill="#222" opacity="0.85"/>
<ellipse cx="638.5" cy="40.8" rx="3.5" ry="4.5" fill="#2a2a2a" opacity="0.85"/>
<ellipse cx="638.5" cy="51.8" rx="6" ry="4" fill="#2c2c2c" opacity="0.85"/>
<ellipse cx="654.4" cy="62" rx="4" ry="5" fill="#262626" opacity="0.85"/>
<ellipse cx="658" cy="68.4" rx="3.7" ry="5" fill="#222" opacity="0.85"/>
<ellipse cx="642.8" cy="78.7" rx="4.5" ry="5.5" fill="#252525" opacity="0.85"/>
<ellipse cx="672.8" cy="91.6" rx="6" ry="6" fill="#2a2a2a" opacity="0.85"/>
<ellipse cx="632.5" cy="95.5" rx="3" ry="5.5" fill="#333" opacity="0.85"/>
</g>
</g>
<g clip-path="url(#semc2)">
<rect x="573" y="107.9" width="112" height="81.4" fill="#727272"/>
<rect x="573" y="107.9" width="112" height="81.4" filter="url(#semMid)" opacity="0.35"/>
<g filter="url(#blobF2)">
<ellipse cx="619.5" cy="128.7" rx="10.5" ry="12" fill="#8e8e8e" opacity="0.85"/>
<ellipse cx="593.5" cy="152" rx="11" ry="6.5" fill="#888" opacity="0.85"/>
<ellipse cx="576.5" cy="159" rx="3.5" ry="11" fill="#9a9a9a" opacity="0.85"/>
<ellipse cx="630.5" cy="159" rx="3" ry="8.5" fill="#999" opacity="0.85"/>
<ellipse cx="640" cy="130" rx="7" ry="8.5" fill="#555" opacity="0.85"/>
<ellipse cx="660.5" cy="148" rx="8.5" ry="9.5" fill="#555" opacity="0.85"/>
<ellipse cx="674.5" cy="115.5" rx="10.5" ry="8.5" fill="#5a5a5a" opacity="0.85"/>
<ellipse cx="635" cy="181" rx="7.5" ry="9" fill="#555" opacity="0.85"/>
<ellipse cx="619.5" cy="155" rx="10.5" ry="7" fill="#5a5a5a" opacity="0.85"/>
</g>
<rect x="573" y="107.9" width="112" height="81.4" filter="url(#semVein2)" opacity="0.75"/>
<rect x="573" y="107.9" width="112" height="81.4" fill="#000" opacity="0.04"/>
<g filter="url(#blobF2)">
<ellipse cx="589" cy="127" rx="10" ry="6.5" fill="#262626" opacity="0.9"/>
<ellipse cx="591" cy="141" rx="7" ry="6" fill="#2a2a2a" opacity="0.9"/>
<ellipse cx="613" cy="171" rx="8.5" ry="6" fill="#2a2a2a" opacity="0.9"/>
<ellipse cx="577" cy="182" rx="4.5" ry="8" fill="#2e2e2e" opacity="0.9"/>
<ellipse cx="680.5" cy="178.5" rx="4.5" ry="11.5" fill="#333" opacity="0.9"/>
</g>
<g filter="url(#fibF)">
<ellipse cx="635" cy="114.5" rx="7.5" ry="7" fill="#f4f4f4" opacity="0.8"/>
<ellipse cx="655.5" cy="124" rx="8.5" ry="14.5" fill="#eeeeee" opacity="0.8"/>
<ellipse cx="678" cy="154" rx="7" ry="13.5" fill="#f0f0f0" opacity="0.8"/>
<ellipse cx="659" cy="178.5" rx="9.5" ry="11.5" fill="#e8e8e8" opacity="0.8"/>
</g>
<rect x="573" y="107.9" width="112" height="1.6" fill="#3a3a3a"/>
</g>
<rect x="592.2" y="26.3" width="31.1" height="24.5" fill="none" stroke="#000" stroke-width="1.2"/>
<line x1="592.2" y1="50.8" x2="572.6" y2="107.6" stroke="#000" stroke-width="1.1"/>
<line x1="623.3" y1="50.8" x2="685.5" y2="107.6" stroke="#000" stroke-width="1.1"/>
<text x="670.6" y="28.4" font-size="6" fill="#fff" text-anchor="middle" font-weight="bold" stroke="#fff" stroke-width="0.2">200µm</text>
<rect x="664.9" y="30.0" width="11.9" height="1.5" fill="#fff"/>
<path d="M34.00,233.40 V317.00 H158.60" fill="none" stroke="#404040" stroke-width="1.0"/>
<text x="27.50" y="237.29" font-size="9.2" font-weight="bold" text-anchor="end" fill="#111" stroke="#111" stroke-width="0.2" >10</text>
<text x="28.60" y="234.29" font-size="5.8" font-weight="bold" text-anchor="start" fill="#111" stroke="#111" stroke-width="0.2" >4</text>
<text x="27.50" y="265.16" font-size="9.2" font-weight="bold" text-anchor="end" fill="#111" stroke="#111" stroke-width="0.2" >10</text>
<text x="28.60" y="262.16" font-size="5.8" font-weight="bold" text-anchor="start" fill="#111" stroke="#111" stroke-width="0.2" >3</text>
<text x="27.50" y="293.03" font-size="9.2" font-weight="bold" text-anchor="end" fill="#111" stroke="#111" stroke-width="0.2" >10</text>
<text x="28.60" y="290.03" font-size="5.8" font-weight="bold" text-anchor="start" fill="#111" stroke="#111" stroke-width="0.2" >2</text>
<text x="27.50" y="320.90" font-size="9.2" font-weight="bold" text-anchor="end" fill="#111" stroke="#111" stroke-width="0.2" >10</text>
<text x="28.60" y="317.90" font-size="5.8" font-weight="bold" text-anchor="start" fill="#111" stroke="#111" stroke-width="0.2" >1</text>
<line x1="32.80" y1="233.39" x2="34.50" y2="233.39" stroke="#111" stroke-width="1"/>
<line x1="32.80" y1="247.32" x2="34.50" y2="247.32" stroke="#111" stroke-width="1"/>
<line x1="32.80" y1="261.26" x2="34.50" y2="261.26" stroke="#111" stroke-width="1"/>
<line x1="32.80" y1="275.19" x2="34.50" y2="275.19" stroke="#111" stroke-width="1"/>
<line x1="32.80" y1="289.13" x2="34.50" y2="289.13" stroke="#111" stroke-width="1"/>
<line x1="32.80" y1="303.06" x2="34.50" y2="303.06" stroke="#111" stroke-width="1"/>
<line x1="43.35" y1="316.50" x2="43.35" y2="318.00" stroke="#333" stroke-width="0.9"/>
<line x1="48.81" y1="316.50" x2="48.81" y2="318.00" stroke="#333" stroke-width="0.9"/>
<line x1="52.69" y1="316.50" x2="52.69" y2="318.00" stroke="#333" stroke-width="0.9"/>
<line x1="55.70" y1="316.50" x2="55.70" y2="318.00" stroke="#333" stroke-width="0.9"/>
<line x1="58.16" y1="316.50" x2="58.16" y2="318.00" stroke="#333" stroke-width="0.9"/>
<line x1="60.24" y1="316.50" x2="60.24" y2="318.00" stroke="#333" stroke-width="0.9"/>
<line x1="62.04" y1="316.50" x2="62.04" y2="318.00" stroke="#333" stroke-width="0.9"/>
<line x1="63.63" y1="316.50" x2="63.63" y2="318.00" stroke="#333" stroke-width="0.9"/>
<line x1="74.40" y1="316.50" x2="74.40" y2="318.00" stroke="#333" stroke-width="0.9"/>
<line x1="79.86" y1="316.50" x2="79.86" y2="318.00" stroke="#333" stroke-width="0.9"/>
<line x1="83.74" y1="316.50" x2="83.74" y2="318.00" stroke="#333" stroke-width="0.9"/>
<line x1="86.75" y1="316.50" x2="86.75" y2="318.00" stroke="#333" stroke-width="0.9"/>
<line x1="89.21" y1="316.50" x2="89.21" y2="318.00" stroke="#333" stroke-width="0.9"/>
<line x1="91.29" y1="316.50" x2="91.29" y2="318.00" stroke="#333" stroke-width="0.9"/>
<line x1="93.09" y1="316.50" x2="93.09" y2="318.00" stroke="#333" stroke-width="0.9"/>
<line x1="94.68" y1="316.50" x2="94.68" y2="318.00" stroke="#333" stroke-width="0.9"/>
<line x1="105.45" y1="316.50" x2="105.45" y2="318.00" stroke="#333" stroke-width="0.9"/>
<line x1="110.91" y1="316.50" x2="110.91" y2="318.00" stroke="#333" stroke-width="0.9"/>
<line x1="114.79" y1="316.50" x2="114.79" y2="318.00" stroke="#333" stroke-width="0.9"/>
<line x1="117.80" y1="316.50" x2="117.80" y2="318.00" stroke="#333" stroke-width="0.9"/>
<line x1="120.26" y1="316.50" x2="120.26" y2="318.00" stroke="#333" stroke-width="0.9"/>
<line x1="122.34" y1="316.50" x2="122.34" y2="318.00" stroke="#333" stroke-width="0.9"/>
<line x1="124.14" y1="316.50" x2="124.14" y2="318.00" stroke="#333" stroke-width="0.9"/>
<line x1="125.73" y1="316.50" x2="125.73" y2="318.00" stroke="#333" stroke-width="0.9"/>
<line x1="136.50" y1="316.50" x2="136.50" y2="318.00" stroke="#333" stroke-width="0.9"/>
<line x1="141.96" y1="316.50" x2="141.96" y2="318.00" stroke="#333" stroke-width="0.9"/>
<line x1="145.84" y1="316.50" x2="145.84" y2="318.00" stroke="#333" stroke-width="0.9"/>
<line x1="148.85" y1="316.50" x2="148.85" y2="318.00" stroke="#333" stroke-width="0.9"/>
<line x1="151.31" y1="316.50" x2="151.31" y2="318.00" stroke="#333" stroke-width="0.9"/>
<line x1="153.39" y1="316.50" x2="153.39" y2="318.00" stroke="#333" stroke-width="0.9"/>
<line x1="155.19" y1="316.50" x2="155.19" y2="318.00" stroke="#333" stroke-width="0.9"/>
<line x1="156.78" y1="316.50" x2="156.78" y2="318.00" stroke="#333" stroke-width="0.9"/>
<text x="33.00" y="328.20" font-size="8.6" font-weight="bold" text-anchor="middle" fill="#111" stroke="#111" stroke-width="0.2" >0.01</text>
<text x="65.05" y="328.20" font-size="8.6" font-weight="bold" text-anchor="middle" fill="#111" stroke="#111" stroke-width="0.2" >0.1</text>
<text x="96.10" y="328.20" font-size="8.6" font-weight="bold" text-anchor="middle" fill="#111" stroke="#111" stroke-width="0.2" >1</text>
<text x="127.15" y="328.20" font-size="8.6" font-weight="bold" text-anchor="middle" fill="#111" stroke="#111" stroke-width="0.2" >10</text>
<text x="158.20" y="328.20" font-size="8.6" font-weight="bold" text-anchor="middle" fill="#111" stroke="#111" stroke-width="0.2" >100</text>
<text x="95.50" y="341.00" font-size="9" font-weight="bold" text-anchor="middle" fill="#111" stroke="#111" stroke-width="0.2" >Strain (%)</text>
<text transform="translate(10.90,273.30) rotate(-90)" font-size="9.3" font-weight="bold" text-anchor="middle" fill="#111" stroke="#111" stroke-width="0.2">G'G'' (Pa)</text>
<polyline points="34.00,248.00 37.10,248.00 40.21,248.01 43.31,248.01 46.42,248.02 49.52,248.02 52.63,248.03 55.73,248.03 58.84,248.04 61.95,248.04 65.05,248.05 68.16,248.05 71.26,248.06 74.37,248.06 77.47,248.07 80.58,248.07 83.68,248.08 86.78,248.08 89.89,248.08 93.00,248.09 96.10,248.09 99.20,248.10 102.31,248.56 105.42,249.72 108.52,252.52 111.62,256.92 114.73,262.12 117.83,266.44 120.94,271.85 124.05,276.37 127.15,280.61 130.25,284.83 133.36,288.82 136.47,292.80 139.57,296.79 142.68,300.83 145.78,304.90 148.88,309.48 151.99,314.39" fill="none" stroke="#111" stroke-width="0.8"/>
<circle cx="34.00" cy="248.00" r="1.05" fill="#111"/>
<circle cx="37.10" cy="248.00" r="1.05" fill="#111"/>
<circle cx="40.21" cy="248.01" r="1.05" fill="#111"/>
<circle cx="43.31" cy="248.01" r="1.05" fill="#111"/>
<circle cx="46.42" cy="248.02" r="1.05" fill="#111"/>
<circle cx="49.52" cy="248.02" r="1.05" fill="#111"/>
<circle cx="52.63" cy="248.03" r="1.05" fill="#111"/>
<circle cx="55.73" cy="248.03" r="1.05" fill="#111"/>
<circle cx="58.84" cy="248.04" r="1.05" fill="#111"/>
<circle cx="61.95" cy="248.04" r="1.05" fill="#111"/>
<circle cx="65.05" cy="248.05" r="1.05" fill="#111"/>
<circle cx="68.16" cy="248.05" r="1.05" fill="#111"/>
<circle cx="71.26" cy="248.06" r="1.05" fill="#111"/>
<circle cx="74.37" cy="248.06" r="1.05" fill="#111"/>
<circle cx="77.47" cy="248.07" r="1.05" fill="#111"/>
<circle cx="80.58" cy="248.07" r="1.05" fill="#111"/>
<circle cx="83.68" cy="248.08" r="1.05" fill="#111"/>
<circle cx="86.78" cy="248.08" r="1.05" fill="#111"/>
<circle cx="89.89" cy="248.08" r="1.05" fill="#111"/>
<circle cx="93.00" cy="248.09" r="1.05" fill="#111"/>
<circle cx="96.10" cy="248.09" r="1.05" fill="#111"/>
<circle cx="99.20" cy="248.10" r="1.05" fill="#111"/>
<circle cx="102.31" cy="248.56" r="1.05" fill="#111"/>
<circle cx="105.42" cy="249.72" r="1.05" fill="#111"/>
<circle cx="108.52" cy="252.52" r="1.05" fill="#111"/>
<circle cx="111.62" cy="256.92" r="1.05" fill="#111"/>
<circle cx="114.73" cy="262.12" r="1.05" fill="#111"/>
<circle cx="117.83" cy="266.44" r="1.05" fill="#111"/>
<circle cx="120.94" cy="271.85" r="1.05" fill="#111"/>
<circle cx="124.05" cy="276.37" r="1.05" fill="#111"/>
<circle cx="127.15" cy="280.61" r="1.05" fill="#111"/>
<circle cx="130.25" cy="284.83" r="1.05" fill="#111"/>
<circle cx="133.36" cy="288.82" r="1.05" fill="#111"/>
<circle cx="136.47" cy="292.80" r="1.05" fill="#111"/>
<circle cx="139.57" cy="296.79" r="1.05" fill="#111"/>
<circle cx="142.68" cy="300.83" r="1.05" fill="#111"/>
<circle cx="145.78" cy="304.90" r="1.05" fill="#111"/>
<circle cx="148.88" cy="309.48" r="1.05" fill="#111"/>
<circle cx="151.99" cy="314.39" r="1.05" fill="#111"/>
<polyline points="34.00,267.04 37.10,269.15 40.21,269.36 43.31,269.54 46.42,269.56 49.52,269.18 52.63,269.11 55.73,269.56 58.84,269.17 61.95,269.15 65.05,269.62 68.16,269.32 71.26,269.56 74.37,269.36 77.47,269.47 80.58,269.18 83.68,269.38 86.78,269.44 89.89,269.15 93.00,269.20 96.10,269.01 99.20,268.40 102.31,268.37 105.42,267.75 108.52,266.79 111.62,265.84 114.73,266.31 117.83,266.94 120.94,268.88 124.05,270.42 127.15,271.78 130.25,273.41 133.36,274.64 136.47,276.63 139.57,278.16 142.68,280.41 145.78,282.49 148.88,284.14 151.99,287.25 155.09,291.12 158.20,295.66" fill="none" stroke="#ee1c24" stroke-width="0.8"/>
<rect x="33.10" y="266.24" width="1.80" height="1.6" fill="#ee1c24"/>
<rect x="36.20" y="268.35" width="1.80" height="1.6" fill="#ee1c24"/>
<rect x="39.31" y="268.56" width="1.80" height="1.6" fill="#ee1c24"/>
<rect x="42.41" y="268.74" width="1.80" height="1.6" fill="#ee1c24"/>
<rect x="45.52" y="268.76" width="1.80" height="1.6" fill="#ee1c24"/>
<rect x="48.62" y="268.38" width="1.80" height="1.6" fill="#ee1c24"/>
<rect x="51.73" y="268.31" width="1.80" height="1.6" fill="#ee1c24"/>
<rect x="54.84" y="268.76" width="1.80" height="1.6" fill="#ee1c24"/>
<rect x="57.94" y="268.37" width="1.80" height="1.6" fill="#ee1c24"/>
<rect x="61.05" y="268.35" width="1.80" height="1.6" fill="#ee1c24"/>
<rect x="64.15" y="268.82" width="1.80" height="1.6" fill="#ee1c24"/>
<rect x="67.25" y="268.52" width="1.80" height="1.6" fill="#ee1c24"/>
<rect x="70.36" y="268.76" width="1.80" height="1.6" fill="#ee1c24"/>
<rect x="73.47" y="268.56" width="1.80" height="1.6" fill="#ee1c24"/>
<rect x="76.57" y="268.67" width="1.80" height="1.6" fill="#ee1c24"/>
<rect x="79.67" y="268.38" width="1.80" height="1.6" fill="#ee1c24"/>
<rect x="82.78" y="268.58" width="1.80" height="1.6" fill="#ee1c24"/>
<rect x="85.88" y="268.64" width="1.80" height="1.6" fill="#ee1c24"/>
<rect x="88.99" y="268.35" width="1.80" height="1.6" fill="#ee1c24"/>
<rect x="92.09" y="268.40" width="1.80" height="1.6" fill="#ee1c24"/>
<rect x="95.20" y="268.21" width="1.80" height="1.6" fill="#ee1c24"/>
<rect x="98.30" y="267.60" width="1.80" height="1.6" fill="#ee1c24"/>
<rect x="101.41" y="267.57" width="1.80" height="1.6" fill="#ee1c24"/>
<rect x="104.52" y="266.95" width="1.80" height="1.6" fill="#ee1c24"/>
<rect x="107.62" y="265.99" width="1.80" height="1.6" fill="#ee1c24"/>
<rect x="110.72" y="265.04" width="1.80" height="1.6" fill="#ee1c24"/>
<rect x="113.83" y="265.51" width="1.80" height="1.6" fill="#ee1c24"/>
<rect x="116.93" y="266.14" width="1.80" height="1.6" fill="#ee1c24"/>
<rect x="120.04" y="268.08" width="1.80" height="1.6" fill="#ee1c24"/>
<rect x="123.14" y="269.62" width="1.80" height="1.6" fill="#ee1c24"/>
<rect x="126.25" y="270.98" width="1.80" height="1.6" fill="#ee1c24"/>
<rect x="129.35" y="272.61" width="1.80" height="1.6" fill="#ee1c24"/>
<rect x="132.46" y="273.84" width="1.80" height="1.6" fill="#ee1c24"/>
<rect x="135.56" y="275.83" width="1.80" height="1.6" fill="#ee1c24"/>
<rect x="138.67" y="277.36" width="1.80" height="1.6" fill="#ee1c24"/>
<rect x="141.78" y="279.61" width="1.80" height="1.6" fill="#ee1c24"/>
<rect x="144.88" y="281.69" width="1.80" height="1.6" fill="#ee1c24"/>
<rect x="147.98" y="283.34" width="1.80" height="1.6" fill="#ee1c24"/>
<rect x="151.09" y="286.45" width="1.80" height="1.6" fill="#ee1c24"/>
<rect x="154.19" y="290.32" width="1.80" height="1.6" fill="#ee1c24"/>
<rect x="157.30" y="294.86" width="1.80" height="1.6" fill="#ee1c24"/>
<line x1="116.9" y1="268.9" x2="109.5" y2="276.4" stroke="#222" stroke-width="0.8"/>
<path d="M107.2,278.6 L108.2,274.6 L111.3,277.7 Z" fill="#111"/>
<text x="97.90" y="287.90" font-size="8.0" font-weight="normal" text-anchor="start" fill="#222" stroke="#222" stroke-width="0.2" >5.22%</text>
<line x1="126.6" y1="241.3" x2="135.3" y2="241.3" stroke="#222" stroke-width="0.9"/>
<circle cx="130.95" cy="241.3" r="1.1" fill="#000"/>
<line x1="126.6" y1="249.9" x2="135.3" y2="249.9" stroke="#f66" stroke-width="0.9" opacity="0.8"/>
<rect x="129.64999999999998" y="248.9" width="2.6" height="2" fill="#ee1c24"/>
<text x="140.50" y="244.40" font-size="8.7" font-weight="bold" text-anchor="start" fill="#111" stroke="#111" stroke-width="0.2" >G'</text>
<text x="140.50" y="252.80" font-size="8.7" font-weight="bold" text-anchor="start" fill="#111" stroke="#111" stroke-width="0.2" >G''</text>
<path d="M204.50,233.40 V317.00 H329.00" fill="none" stroke="#404040" stroke-width="1.0"/>
<text x="198.00" y="237.29" font-size="9.2" font-weight="bold" text-anchor="end" fill="#111" stroke="#111" stroke-width="0.2" >10</text>
<text x="199.10" y="234.29" font-size="5.8" font-weight="bold" text-anchor="start" fill="#111" stroke="#111" stroke-width="0.2" >4</text>
<text x="198.00" y="265.16" font-size="9.2" font-weight="bold" text-anchor="end" fill="#111" stroke="#111" stroke-width="0.2" >10</text>
<text x="199.10" y="262.16" font-size="5.8" font-weight="bold" text-anchor="start" fill="#111" stroke="#111" stroke-width="0.2" >3</text>
<text x="198.00" y="293.03" font-size="9.2" font-weight="bold" text-anchor="end" fill="#111" stroke="#111" stroke-width="0.2" >10</text>
<text x="199.10" y="290.03" font-size="5.8" font-weight="bold" text-anchor="start" fill="#111" stroke="#111" stroke-width="0.2" >2</text>
<text x="198.00" y="320.90" font-size="9.2" font-weight="bold" text-anchor="end" fill="#111" stroke="#111" stroke-width="0.2" >10</text>
<text x="199.10" y="317.90" font-size="5.8" font-weight="bold" text-anchor="start" fill="#111" stroke="#111" stroke-width="0.2" >1</text>
<line x1="203.30" y1="233.39" x2="205.00" y2="233.39" stroke="#111" stroke-width="1"/>
<line x1="203.30" y1="247.32" x2="205.00" y2="247.32" stroke="#111" stroke-width="1"/>
<line x1="203.30" y1="261.26" x2="205.00" y2="261.26" stroke="#111" stroke-width="1"/>
<line x1="203.30" y1="275.19" x2="205.00" y2="275.19" stroke="#111" stroke-width="1"/>
<line x1="203.30" y1="289.13" x2="205.00" y2="289.13" stroke="#111" stroke-width="1"/>
<line x1="203.30" y1="303.06" x2="205.00" y2="303.06" stroke="#111" stroke-width="1"/>
<line x1="220.05" y1="316.50" x2="220.05" y2="318.00" stroke="#333" stroke-width="0.9"/>
<line x1="235.60" y1="316.50" x2="235.60" y2="318.00" stroke="#333" stroke-width="0.9"/>
<line x1="251.15" y1="316.50" x2="251.15" y2="318.00" stroke="#333" stroke-width="0.9"/>
<line x1="266.70" y1="316.50" x2="266.70" y2="318.00" stroke="#333" stroke-width="0.9"/>
<line x1="282.25" y1="316.50" x2="282.25" y2="318.00" stroke="#333" stroke-width="0.9"/>
<line x1="297.80" y1="316.50" x2="297.80" y2="318.00" stroke="#333" stroke-width="0.9"/>
<line x1="313.35" y1="316.50" x2="313.35" y2="318.00" stroke="#333" stroke-width="0.9"/>
<text x="204.50" y="328.20" font-size="8.6" font-weight="bold" text-anchor="middle" fill="#111" stroke="#111" stroke-width="0.2" >0</text>
<text x="235.60" y="328.20" font-size="8.6" font-weight="bold" text-anchor="middle" fill="#111" stroke="#111" stroke-width="0.2" >200</text>
<text x="266.70" y="328.20" font-size="8.6" font-weight="bold" text-anchor="middle" fill="#111" stroke="#111" stroke-width="0.2" >400</text>
<text x="297.80" y="328.20" font-size="8.6" font-weight="bold" text-anchor="middle" fill="#111" stroke="#111" stroke-width="0.2" >600</text>
<text x="328.90" y="328.20" font-size="8.6" font-weight="bold" text-anchor="middle" fill="#111" stroke="#111" stroke-width="0.2" >800</text>
<text x="266.40" y="341.00" font-size="9" font-weight="bold" text-anchor="middle" fill="#111" stroke="#111" stroke-width="0.2" >Time (s)</text>
<text transform="translate(180.80,273.30) rotate(-90)" font-size="9.3" font-weight="bold" text-anchor="middle" fill="#111" stroke="#111" stroke-width="0.2">G'G'' (Pa)</text>
<line x1="230.30" y1="255.12" x2="230.30" y2="313.00" stroke="#666" stroke-width="0.8"/>
<line x1="237.40" y1="310.40" x2="237.40" y2="254.99" stroke="#666" stroke-width="0.8"/>
<path d="M230.70,313.20 V311.00 H237.40" fill="none" stroke="#000" stroke-width="1.3"/>
<path d="M230.60,289.90 L232.30,288.70 L237.40,289.10" fill="none" stroke="#ee1c24" stroke-width="1.4"/>
<line x1="263.30" y1="254.51" x2="263.30" y2="313.00" stroke="#666" stroke-width="0.8"/>
<line x1="270.00" y1="310.40" x2="270.00" y2="254.39" stroke="#666" stroke-width="0.8"/>
<path d="M263.70,313.20 V311.00 H270.00" fill="none" stroke="#000" stroke-width="1.3"/>
<path d="M263.60,289.90 L265.30,288.70 L270.00,289.10" fill="none" stroke="#ee1c24" stroke-width="1.4"/>
<line x1="295.70" y1="253.91" x2="295.70" y2="313.00" stroke="#666" stroke-width="0.8"/>
<line x1="303.20" y1="310.40" x2="303.20" y2="253.78" stroke="#666" stroke-width="0.8"/>
<path d="M296.10,313.20 V311.00 H303.20" fill="none" stroke="#000" stroke-width="1.3"/>
<path d="M296.00,289.90 L297.70,288.70 L303.20,289.10" fill="none" stroke="#ee1c24" stroke-width="1.4"/>
<line x1="204.40" y1="255.60" x2="230.30" y2="255.12" stroke="#000" stroke-width="1.7"/>
<polyline points="204.40,276.36 205.40,276.47 206.40,276.23 207.40,276.35 208.40,276.25 209.40,276.21 210.40,276.36 211.40,276.34 212.40,276.55 213.40,276.38 214.40,276.53 215.40,276.46 216.40,276.54 217.40,276.30 218.40,275.93 219.40,276.40 220.40,276.46 221.40,276.40 222.40,276.15 223.40,276.23 224.40,275.86 225.40,276.28 226.40,276.08 227.40,275.86 228.40,275.69 229.40,276.23" fill="none" stroke="#ee1c24" stroke-width="1.4"/>
<line x1="237.40" y1="254.99" x2="263.30" y2="254.51" stroke="#000" stroke-width="1.7"/>
<polyline points="237.40,276.19 238.40,275.54 239.40,276.02 240.40,275.73 241.40,275.53 242.40,275.62 243.40,275.93 244.40,275.99 245.40,275.39 246.40,275.77 247.40,275.36 248.40,275.81 249.40,275.52 250.40,275.89 251.40,275.94 252.40,275.59 253.40,275.92 254.40,275.42 255.40,275.24 256.40,275.59 257.40,275.18 258.40,275.28 259.40,275.41 260.40,275.53 261.40,275.20 262.40,275.10" fill="none" stroke="#ee1c24" stroke-width="1.4"/>
<line x1="270.00" y1="254.39" x2="295.70" y2="253.91" stroke="#000" stroke-width="1.7"/>
<polyline points="270.00,275.55 271.00,275.15 272.00,275.58 273.00,275.52 274.00,275.14 275.00,275.18 276.00,275.21 277.00,275.28 278.00,275.23 279.00,275.18 280.00,275.21 281.00,275.42 282.00,275.10 283.00,275.03 284.00,275.21 285.00,274.86 286.00,274.89 287.00,275.34 288.00,275.01 289.00,275.01 290.00,274.62 291.00,274.88 292.00,274.98 293.00,274.57 294.00,274.97 295.00,274.97" fill="none" stroke="#ee1c24" stroke-width="1.4"/>
<line x1="303.20" y1="253.78" x2="329.00" y2="253.30" stroke="#000" stroke-width="1.7"/>
<polyline points="303.20,274.43 304.20,274.81 305.20,274.68 306.20,274.81 307.20,274.56 308.20,274.80 309.20,274.80 310.20,274.28 311.20,274.29 312.20,274.71 313.20,274.89 314.20,274.38 315.20,274.50 316.20,274.58 317.20,274.37 318.20,274.39 319.20,274.33 320.20,274.36 321.20,274.50 322.20,274.27 323.20,274.31 324.20,274.57 325.20,274.03 326.20,274.40 327.20,274.49 328.20,274.18" fill="none" stroke="#ee1c24" stroke-width="1.4"/>
<text x="208.30" y="251.40" font-size="8.0" font-weight="normal" text-anchor="start" fill="#222" stroke="#222" stroke-width="0.2" >0.1%</text>
<text x="241.00" y="251.40" font-size="8.0" font-weight="normal" text-anchor="start" fill="#222" stroke="#222" stroke-width="0.2" >0.1%</text>
<text x="212.50" y="314.30" font-size="8.0" font-weight="normal" text-anchor="start" fill="#222" stroke="#222" stroke-width="0.2" >15%</text>
<line x1="300.2" y1="239.3" x2="309.3" y2="239.3" stroke="#222" stroke-width="0.9"/>
<circle cx="304.75" cy="239.3" r="1.1" fill="#000"/>
<line x1="300.2" y1="248.0" x2="309.3" y2="248.0" stroke="#f66" stroke-width="0.9" opacity="0.8"/>
<rect x="303.45" y="247.0" width="2.6" height="2" fill="#ee1c24"/>
<text x="314.30" y="242.40" font-size="8.7" font-weight="bold" text-anchor="start" fill="#111" stroke="#111" stroke-width="0.2" >G'</text>
<text x="314.30" y="250.90" font-size="8.7" font-weight="bold" text-anchor="start" fill="#111" stroke="#111" stroke-width="0.2" >G''</text>
<path d="M377.50,233.40 V317.00 H502.40" fill="none" stroke="#404040" stroke-width="1.0"/>
<text x="371.00" y="237.30" font-size="9.2" font-weight="bold" text-anchor="end" fill="#111" stroke="#111" stroke-width="0.2" >10</text>
<text x="372.10" y="234.30" font-size="5.8" font-weight="bold" text-anchor="start" fill="#111" stroke="#111" stroke-width="0.2" >4</text>
<text x="371.00" y="279.10" font-size="9.2" font-weight="bold" text-anchor="end" fill="#111" stroke="#111" stroke-width="0.2" >10</text>
<text x="372.10" y="276.10" font-size="5.8" font-weight="bold" text-anchor="start" fill="#111" stroke="#111" stroke-width="0.2" >3</text>
<text x="371.00" y="320.90" font-size="9.2" font-weight="bold" text-anchor="end" fill="#111" stroke="#111" stroke-width="0.2" >10</text>
<text x="372.10" y="317.90" font-size="5.8" font-weight="bold" text-anchor="start" fill="#111" stroke="#111" stroke-width="0.2" >2</text>
<line x1="376.30" y1="233.40" x2="378.00" y2="233.40" stroke="#111" stroke-width="1"/>
<line x1="376.30" y1="247.33" x2="378.00" y2="247.33" stroke="#111" stroke-width="1"/>
<line x1="376.30" y1="261.27" x2="378.00" y2="261.27" stroke="#111" stroke-width="1"/>
<line x1="376.30" y1="275.20" x2="378.00" y2="275.20" stroke="#111" stroke-width="1"/>
<line x1="376.30" y1="289.13" x2="378.00" y2="289.13" stroke="#111" stroke-width="1"/>
<line x1="376.30" y1="303.07" x2="378.00" y2="303.07" stroke="#111" stroke-width="1"/>
<line x1="396.28" y1="316.50" x2="396.28" y2="318.00" stroke="#333" stroke-width="0.9"/>
<line x1="407.27" y1="316.50" x2="407.27" y2="318.00" stroke="#333" stroke-width="0.9"/>
<line x1="415.07" y1="316.50" x2="415.07" y2="318.00" stroke="#333" stroke-width="0.9"/>
<line x1="421.12" y1="316.50" x2="421.12" y2="318.00" stroke="#333" stroke-width="0.9"/>
<line x1="426.06" y1="316.50" x2="426.06" y2="318.00" stroke="#333" stroke-width="0.9"/>
<line x1="430.23" y1="316.50" x2="430.23" y2="318.00" stroke="#333" stroke-width="0.9"/>
<line x1="433.85" y1="316.50" x2="433.85" y2="318.00" stroke="#333" stroke-width="0.9"/>
<line x1="437.04" y1="316.50" x2="437.04" y2="318.00" stroke="#333" stroke-width="0.9"/>
<line x1="458.68" y1="316.50" x2="458.68" y2="318.00" stroke="#333" stroke-width="0.9"/>
<line x1="469.67" y1="316.50" x2="469.67" y2="318.00" stroke="#333" stroke-width="0.9"/>
<line x1="477.47" y1="316.50" x2="477.47" y2="318.00" stroke="#333" stroke-width="0.9"/>
<line x1="483.52" y1="316.50" x2="483.52" y2="318.00" stroke="#333" stroke-width="0.9"/>
<line x1="488.46" y1="316.50" x2="488.46" y2="318.00" stroke="#333" stroke-width="0.9"/>
<line x1="492.63" y1="316.50" x2="492.63" y2="318.00" stroke="#333" stroke-width="0.9"/>
<line x1="496.25" y1="316.50" x2="496.25" y2="318.00" stroke="#333" stroke-width="0.9"/>
<line x1="499.44" y1="316.50" x2="499.44" y2="318.00" stroke="#333" stroke-width="0.9"/>
<text x="377.50" y="328.20" font-size="8.6" font-weight="bold" text-anchor="middle" fill="#111" stroke="#111" stroke-width="0.2" >1</text>
<text x="439.90" y="328.20" font-size="8.6" font-weight="bold" text-anchor="middle" fill="#111" stroke="#111" stroke-width="0.2" >10</text>
<text x="502.30" y="328.20" font-size="8.6" font-weight="bold" text-anchor="middle" fill="#111" stroke="#111" stroke-width="0.2" >100</text>
<text x="440.00" y="341.00" font-size="9" font-weight="bold" text-anchor="middle" fill="#111" stroke="#111" stroke-width="0.2" >Frequency (rad/s)</text>
<text transform="translate(355.80,273.20) rotate(-90)" font-size="9.3" font-weight="bold" text-anchor="middle" fill="#111" stroke="#111" stroke-width="0.2">G'G'' (Pa)</text>
<polyline points="377.50,271.30 381.66,271.02 385.82,270.75 389.98,270.47 394.14,270.19 398.30,269.92 402.46,269.64 406.62,269.36 410.78,269.09 414.94,268.81 419.10,268.53 423.26,268.26 427.42,267.98 431.58,267.70 435.74,267.43 439.90,267.15 444.06,266.87 448.22,266.60 452.38,266.32 456.54,266.04 460.70,265.77 464.86,265.49 469.02,265.21 473.18,264.94 477.34,264.66 481.50,264.38 485.66,264.11 489.82,263.83 493.98,263.55 498.14,263.28 502.30,263.00" fill="none" stroke="#111" stroke-width="0.8"/>
<circle cx="377.50" cy="271.30" r="1.05" fill="#111"/>
<circle cx="381.66" cy="271.02" r="1.05" fill="#111"/>
<circle cx="385.82" cy="270.75" r="1.05" fill="#111"/>
<circle cx="389.98" cy="270.47" r="1.05" fill="#111"/>
<circle cx="394.14" cy="270.19" r="1.05" fill="#111"/>
<circle cx="398.30" cy="269.92" r="1.05" fill="#111"/>
<circle cx="402.46" cy="269.64" r="1.05" fill="#111"/>
<circle cx="406.62" cy="269.36" r="1.05" fill="#111"/>
<circle cx="410.78" cy="269.09" r="1.05" fill="#111"/>
<circle cx="414.94" cy="268.81" r="1.05" fill="#111"/>
<circle cx="419.10" cy="268.53" r="1.05" fill="#111"/>
<circle cx="423.26" cy="268.26" r="1.05" fill="#111"/>
<circle cx="427.42" cy="267.98" r="1.05" fill="#111"/>
<circle cx="431.58" cy="267.70" r="1.05" fill="#111"/>
<circle cx="435.74" cy="267.43" r="1.05" fill="#111"/>
<circle cx="439.90" cy="267.15" r="1.05" fill="#111"/>
<circle cx="444.06" cy="266.87" r="1.05" fill="#111"/>
<circle cx="448.22" cy="266.60" r="1.05" fill="#111"/>
<circle cx="452.38" cy="266.32" r="1.05" fill="#111"/>
<circle cx="456.54" cy="266.04" r="1.05" fill="#111"/>
<circle cx="460.70" cy="265.77" r="1.05" fill="#111"/>
<circle cx="464.86" cy="265.49" r="1.05" fill="#111"/>
<circle cx="469.02" cy="265.21" r="1.05" fill="#111"/>
<circle cx="473.18" cy="264.94" r="1.05" fill="#111"/>
<circle cx="477.34" cy="264.66" r="1.05" fill="#111"/>
<circle cx="481.50" cy="264.38" r="1.05" fill="#111"/>
<circle cx="485.66" cy="264.11" r="1.05" fill="#111"/>
<circle cx="489.82" cy="263.83" r="1.05" fill="#111"/>
<circle cx="493.98" cy="263.55" r="1.05" fill="#111"/>
<circle cx="498.14" cy="263.28" r="1.05" fill="#111"/>
<circle cx="502.30" cy="263.00" r="1.05" fill="#111"/>
<polyline points="377.50,301.50 381.66,302.55 385.82,303.12 389.98,303.38 394.14,303.26 398.30,302.94 402.46,302.46 406.62,301.99 410.78,301.48 414.94,300.81 419.10,300.14 423.26,299.48 427.42,298.81 431.58,298.15 435.74,297.48 439.90,296.82 444.06,296.15 448.22,295.48 452.38,294.80 456.54,294.09 460.70,293.38 464.86,292.67 469.02,291.97 473.18,291.35 477.34,290.77 481.50,290.19 485.66,289.61 489.82,289.03 493.98,288.45 498.14,287.88 502.30,287.31" fill="none" stroke="#ee1c24" stroke-width="0.8"/>
<rect x="376.60" y="300.70" width="1.80" height="1.6" fill="#ee1c24"/>
<rect x="380.76" y="301.75" width="1.80" height="1.6" fill="#ee1c24"/>
<rect x="384.92" y="302.32" width="1.80" height="1.6" fill="#ee1c24"/>
<rect x="389.08" y="302.58" width="1.80" height="1.6" fill="#ee1c24"/>
<rect x="393.24" y="302.46" width="1.80" height="1.6" fill="#ee1c24"/>
<rect x="397.40" y="302.14" width="1.80" height="1.6" fill="#ee1c24"/>
<rect x="401.56" y="301.66" width="1.80" height="1.6" fill="#ee1c24"/>
<rect x="405.72" y="301.19" width="1.80" height="1.6" fill="#ee1c24"/>
<rect x="409.88" y="300.68" width="1.80" height="1.6" fill="#ee1c24"/>
<rect x="414.04" y="300.01" width="1.80" height="1.6" fill="#ee1c24"/>
<rect x="418.20" y="299.34" width="1.80" height="1.6" fill="#ee1c24"/>
<rect x="422.36" y="298.68" width="1.80" height="1.6" fill="#ee1c24"/>
<rect x="426.52" y="298.01" width="1.80" height="1.6" fill="#ee1c24"/>
<rect x="430.68" y="297.35" width="1.80" height="1.6" fill="#ee1c24"/>
<rect x="434.84" y="296.68" width="1.80" height="1.6" fill="#ee1c24"/>
<rect x="439.00" y="296.02" width="1.80" height="1.6" fill="#ee1c24"/>
<rect x="443.16" y="295.35" width="1.80" height="1.6" fill="#ee1c24"/>
<rect x="447.32" y="294.68" width="1.80" height="1.6" fill="#ee1c24"/>
<rect x="451.48" y="294.00" width="1.80" height="1.6" fill="#ee1c24"/>
<rect x="455.64" y="293.29" width="1.80" height="1.6" fill="#ee1c24"/>
<rect x="459.80" y="292.58" width="1.80" height="1.6" fill="#ee1c24"/>
<rect x="463.96" y="291.87" width="1.80" height="1.6" fill="#ee1c24"/>
<rect x="468.12" y="291.17" width="1.80" height="1.6" fill="#ee1c24"/>
<rect x="472.28" y="290.55" width="1.80" height="1.6" fill="#ee1c24"/>
<rect x="476.44" y="289.97" width="1.80" height="1.6" fill="#ee1c24"/>
<rect x="480.60" y="289.39" width="1.80" height="1.6" fill="#ee1c24"/>
<rect x="484.76" y="288.81" width="1.80" height="1.6" fill="#ee1c24"/>
<rect x="488.92" y="288.23" width="1.80" height="1.6" fill="#ee1c24"/>
<rect x="493.08" y="287.65" width="1.80" height="1.6" fill="#ee1c24"/>
<rect x="497.24" y="287.08" width="1.80" height="1.6" fill="#ee1c24"/>
<rect x="501.40" y="286.51" width="1.80" height="1.6" fill="#ee1c24"/>
<line x1="474.6" y1="241.2" x2="483.4" y2="241.2" stroke="#222" stroke-width="0.9"/>
<circle cx="479.0" cy="241.2" r="1.1" fill="#000"/>
<line x1="474.6" y1="250.5" x2="483.4" y2="250.5" stroke="#f66" stroke-width="0.9" opacity="0.8"/>
<rect x="477.7" y="249.5" width="2.6" height="2" fill="#ee1c24"/>
<text x="488.60" y="244.30" font-size="8.7" font-weight="bold" text-anchor="start" fill="#111" stroke="#111" stroke-width="0.2" >G'</text>
<text x="488.60" y="253.40" font-size="8.7" font-weight="bold" text-anchor="start" fill="#111" stroke="#111" stroke-width="0.2" >G''</text>
<path d="M550.50,233.40 V317.00 H674.60" fill="none" stroke="#404040" stroke-width="1.0"/>
<text x="544.00" y="237.30" font-size="9.2" font-weight="bold" text-anchor="end" fill="#111" stroke="#111" stroke-width="0.2" >10</text>
<text x="545.10" y="234.30" font-size="5.8" font-weight="bold" text-anchor="start" fill="#111" stroke="#111" stroke-width="0.2" >4</text>
<text x="544.00" y="279.10" font-size="9.2" font-weight="bold" text-anchor="end" fill="#111" stroke="#111" stroke-width="0.2" >10</text>
<text x="545.10" y="276.10" font-size="5.8" font-weight="bold" text-anchor="start" fill="#111" stroke="#111" stroke-width="0.2" >3</text>
<text x="544.00" y="320.90" font-size="9.2" font-weight="bold" text-anchor="end" fill="#111" stroke="#111" stroke-width="0.2" >10</text>
<text x="545.10" y="317.90" font-size="5.8" font-weight="bold" text-anchor="start" fill="#111" stroke="#111" stroke-width="0.2" >2</text>
<line x1="549.30" y1="233.40" x2="551.00" y2="233.40" stroke="#111" stroke-width="1"/>
<line x1="549.30" y1="247.33" x2="551.00" y2="247.33" stroke="#111" stroke-width="1"/>
<line x1="549.30" y1="261.27" x2="551.00" y2="261.27" stroke="#111" stroke-width="1"/>
<line x1="549.30" y1="275.20" x2="551.00" y2="275.20" stroke="#111" stroke-width="1"/>
<line x1="549.30" y1="289.13" x2="551.00" y2="289.13" stroke="#111" stroke-width="1"/>
<line x1="549.30" y1="303.07" x2="551.00" y2="303.07" stroke="#111" stroke-width="1"/>
<line x1="562.93" y1="316.50" x2="562.93" y2="318.00" stroke="#333" stroke-width="0.9"/>
<line x1="575.36" y1="316.50" x2="575.36" y2="318.00" stroke="#333" stroke-width="0.9"/>
<line x1="587.79" y1="316.50" x2="587.79" y2="318.00" stroke="#333" stroke-width="0.9"/>
<line x1="600.22" y1="316.50" x2="600.22" y2="318.00" stroke="#333" stroke-width="0.9"/>
<line x1="612.65" y1="316.50" x2="612.65" y2="318.00" stroke="#333" stroke-width="0.9"/>
<line x1="625.08" y1="316.50" x2="625.08" y2="318.00" stroke="#333" stroke-width="0.9"/>
<line x1="637.51" y1="316.50" x2="637.51" y2="318.00" stroke="#333" stroke-width="0.9"/>
<line x1="649.94" y1="316.50" x2="649.94" y2="318.00" stroke="#333" stroke-width="0.9"/>
<line x1="662.37" y1="316.50" x2="662.37" y2="318.00" stroke="#333" stroke-width="0.9"/>
<text x="550.50" y="328.20" font-size="8.6" font-weight="bold" text-anchor="middle" fill="#111" stroke="#111" stroke-width="0.2" >0</text>
<text x="575.36" y="328.20" font-size="8.6" font-weight="bold" text-anchor="middle" fill="#111" stroke="#111" stroke-width="0.2" >200</text>
<text x="600.22" y="328.20" font-size="8.6" font-weight="bold" text-anchor="middle" fill="#111" stroke="#111" stroke-width="0.2" >400</text>
<text x="625.08" y="328.20" font-size="8.6" font-weight="bold" text-anchor="middle" fill="#111" stroke="#111" stroke-width="0.2" >600</text>
<text x="649.94" y="328.20" font-size="8.6" font-weight="bold" text-anchor="middle" fill="#111" stroke="#111" stroke-width="0.2" >800</text>
<text x="674.80" y="328.20" font-size="8.6" font-weight="bold" text-anchor="middle" fill="#111" stroke="#111" stroke-width="0.2" >1000</text>
<text x="611.90" y="341.00" font-size="9" font-weight="bold" text-anchor="middle" fill="#111" stroke="#111" stroke-width="0.2" >Time (s)</text>
<text transform="translate(528.00,273.20) rotate(-90)" font-size="9.3" font-weight="bold" text-anchor="middle" fill="#111" stroke="#111" stroke-width="0.2">G'G'' (Pa)</text>
<polyline points="552.40,261.90 554.90,261.83 557.39,261.75 559.89,261.68 562.38,261.61 564.88,261.53 567.38,261.46 569.87,261.39 572.37,261.31 574.86,261.24 577.36,261.17 579.86,261.09 582.35,261.02 584.85,260.95 587.34,260.87 589.84,260.80 592.33,260.73 594.83,260.65 597.33,260.58 599.82,260.51 602.32,260.46 604.81,260.42 607.31,260.38 609.81,260.34 612.30,260.30 614.80,260.26 617.29,260.22 619.79,260.18 622.29,260.14 624.78,260.10 627.28,260.06 629.77,260.02 632.27,259.70 634.77,260.25 637.26,259.64 639.76,259.55 642.25,259.76 644.75,259.98 647.24,259.34 649.74,259.52 652.24,259.49 654.73,259.95 657.23,259.52 659.72,259.90 662.22,259.17 664.72,259.30 667.21,259.57 669.71,259.77 672.20,259.29 674.70,259.03" fill="none" stroke="#111" stroke-width="0.8"/>
<circle cx="552.40" cy="261.90" r="1.05" fill="#111"/>
<circle cx="554.90" cy="261.83" r="1.05" fill="#111"/>
<circle cx="557.39" cy="261.75" r="1.05" fill="#111"/>
<circle cx="559.89" cy="261.68" r="1.05" fill="#111"/>
<circle cx="562.38" cy="261.61" r="1.05" fill="#111"/>
<circle cx="564.88" cy="261.53" r="1.05" fill="#111"/>
<circle cx="567.38" cy="261.46" r="1.05" fill="#111"/>
<circle cx="569.87" cy="261.39" r="1.05" fill="#111"/>
<circle cx="572.37" cy="261.31" r="1.05" fill="#111"/>
<circle cx="574.86" cy="261.24" r="1.05" fill="#111"/>
<circle cx="577.36" cy="261.17" r="1.05" fill="#111"/>
<circle cx="579.86" cy="261.09" r="1.05" fill="#111"/>
<circle cx="582.35" cy="261.02" r="1.05" fill="#111"/>
<circle cx="584.85" cy="260.95" r="1.05" fill="#111"/>
<circle cx="587.34" cy="260.87" r="1.05" fill="#111"/>
<circle cx="589.84" cy="260.80" r="1.05" fill="#111"/>
<circle cx="592.33" cy="260.73" r="1.05" fill="#111"/>
<circle cx="594.83" cy="260.65" r="1.05" fill="#111"/>
<circle cx="597.33" cy="260.58" r="1.05" fill="#111"/>
<circle cx="599.82" cy="260.51" r="1.05" fill="#111"/>
<circle cx="602.32" cy="260.46" r="1.05" fill="#111"/>
<circle cx="604.81" cy="260.42" r="1.05" fill="#111"/>
<circle cx="607.31" cy="260.38" r="1.05" fill="#111"/>
<circle cx="609.81" cy="260.34" r="1.05" fill="#111"/>
<circle cx="612.30" cy="260.30" r="1.05" fill="#111"/>
<circle cx="614.80" cy="260.26" r="1.05" fill="#111"/>
<circle cx="617.29" cy="260.22" r="1.05" fill="#111"/>
<circle cx="619.79" cy="260.18" r="1.05" fill="#111"/>
<circle cx="622.29" cy="260.14" r="1.05" fill="#111"/>
<circle cx="624.78" cy="260.10" r="1.05" fill="#111"/>
<circle cx="627.28" cy="260.06" r="1.05" fill="#111"/>
<circle cx="629.77" cy="260.02" r="1.05" fill="#111"/>
<circle cx="632.27" cy="259.70" r="1.05" fill="#111"/>
<circle cx="634.77" cy="260.25" r="1.05" fill="#111"/>
<circle cx="637.26" cy="259.64" r="1.05" fill="#111"/>
<circle cx="639.76" cy="259.55" r="1.05" fill="#111"/>
<circle cx="642.25" cy="259.76" r="1.05" fill="#111"/>
<circle cx="644.75" cy="259.98" r="1.05" fill="#111"/>
<circle cx="647.24" cy="259.34" r="1.05" fill="#111"/>
<circle cx="649.74" cy="259.52" r="1.05" fill="#111"/>
<circle cx="652.24" cy="259.49" r="1.05" fill="#111"/>
<circle cx="654.73" cy="259.95" r="1.05" fill="#111"/>
<circle cx="657.23" cy="259.52" r="1.05" fill="#111"/>
<circle cx="659.72" cy="259.90" r="1.05" fill="#111"/>
<circle cx="662.22" cy="259.17" r="1.05" fill="#111"/>
<circle cx="664.72" cy="259.30" r="1.05" fill="#111"/>
<circle cx="667.21" cy="259.57" r="1.05" fill="#111"/>
<circle cx="669.71" cy="259.77" r="1.05" fill="#111"/>
<circle cx="672.20" cy="259.29" r="1.05" fill="#111"/>
<circle cx="674.70" cy="259.03" r="1.05" fill="#111"/>
<polyline points="552.40,293.80 554.90,293.74 557.39,293.67 559.89,293.61 562.38,293.55 564.88,293.49 567.38,293.42 569.87,293.36 572.37,293.30 574.86,293.23 577.36,293.17 579.86,293.11 582.35,293.04 584.85,292.98 587.34,292.92 589.84,292.86 592.33,292.79 594.83,292.73 597.33,292.67 599.82,292.60 602.32,292.46 604.81,292.30 607.31,292.14 609.81,291.99 612.30,291.83 614.80,291.68 617.29,291.52 619.79,291.36 622.29,291.21 624.78,291.05 627.28,290.90 629.77,290.74 632.27,290.58 634.77,290.43 637.26,290.27 639.76,290.12 642.25,289.96 644.75,289.80 647.24,289.65 649.74,288.44 652.24,287.54 654.73,287.41 657.23,287.40 659.72,288.48 662.22,288.60 664.72,288.60 667.21,288.45 669.71,288.13 672.20,287.82 674.70,287.50" fill="none" stroke="#ee1c24" stroke-width="0.8"/>
<rect x="551.50" y="293.00" width="1.80" height="1.6" fill="#ee1c24"/>
<rect x="554.00" y="292.94" width="1.80" height="1.6" fill="#ee1c24"/>
<rect x="556.49" y="292.87" width="1.80" height="1.6" fill="#ee1c24"/>
<rect x="558.99" y="292.81" width="1.80" height="1.6" fill="#ee1c24"/>
<rect x="561.48" y="292.75" width="1.80" height="1.6" fill="#ee1c24"/>
<rect x="563.98" y="292.69" width="1.80" height="1.6" fill="#ee1c24"/>
<rect x="566.48" y="292.62" width="1.80" height="1.6" fill="#ee1c24"/>
<rect x="568.97" y="292.56" width="1.80" height="1.6" fill="#ee1c24"/>
<rect x="571.47" y="292.50" width="1.80" height="1.6" fill="#ee1c24"/>
<rect x="573.96" y="292.43" width="1.80" height="1.6" fill="#ee1c24"/>
<rect x="576.46" y="292.37" width="1.80" height="1.6" fill="#ee1c24"/>
<rect x="578.96" y="292.31" width="1.80" height="1.6" fill="#ee1c24"/>
<rect x="581.45" y="292.24" width="1.80" height="1.6" fill="#ee1c24"/>
<rect x="583.95" y="292.18" width="1.80" height="1.6" fill="#ee1c24"/>
<rect x="586.44" y="292.12" width="1.80" height="1.6" fill="#ee1c24"/>
<rect x="588.94" y="292.06" width="1.80" height="1.6" fill="#ee1c24"/>
<rect x="591.43" y="291.99" width="1.80" height="1.6" fill="#ee1c24"/>
<rect x="593.93" y="291.93" width="1.80" height="1.6" fill="#ee1c24"/>
<rect x="596.43" y="291.87" width="1.80" height="1.6" fill="#ee1c24"/>
<rect x="598.92" y="291.80" width="1.80" height="1.6" fill="#ee1c24"/>
<rect x="601.42" y="291.66" width="1.80" height="1.6" fill="#ee1c24"/>
<rect x="603.91" y="291.50" width="1.80" height="1.6" fill="#ee1c24"/>
<rect x="606.41" y="291.34" width="1.80" height="1.6" fill="#ee1c24"/>
<rect x="608.91" y="291.19" width="1.80" height="1.6" fill="#ee1c24"/>
<rect x="611.40" y="291.03" width="1.80" height="1.6" fill="#ee1c24"/>
<rect x="613.90" y="290.88" width="1.80" height="1.6" fill="#ee1c24"/>
<rect x="616.39" y="290.72" width="1.80" height="1.6" fill="#ee1c24"/>
<rect x="618.89" y="290.56" width="1.80" height="1.6" fill="#ee1c24"/>
<rect x="621.39" y="290.41" width="1.80" height="1.6" fill="#ee1c24"/>
<rect x="623.88" y="290.25" width="1.80" height="1.6" fill="#ee1c24"/>
<rect x="626.38" y="290.10" width="1.80" height="1.6" fill="#ee1c24"/>
<rect x="628.87" y="289.94" width="1.80" height="1.6" fill="#ee1c24"/>
<rect x="631.37" y="289.78" width="1.80" height="1.6" fill="#ee1c24"/>
<rect x="633.87" y="289.63" width="1.80" height="1.6" fill="#ee1c24"/>
<rect x="636.36" y="289.47" width="1.80" height="1.6" fill="#ee1c24"/>
<rect x="638.86" y="289.32" width="1.80" height="1.6" fill="#ee1c24"/>
<rect x="641.35" y="289.16" width="1.80" height="1.6" fill="#ee1c24"/>
<rect x="643.85" y="289.00" width="1.80" height="1.6" fill="#ee1c24"/>
<rect x="646.34" y="288.85" width="1.80" height="1.6" fill="#ee1c24"/>
<rect x="648.84" y="287.64" width="1.80" height="1.6" fill="#ee1c24"/>
<rect x="651.34" y="286.74" width="1.80" height="1.6" fill="#ee1c24"/>
<rect x="653.83" y="286.61" width="1.80" height="1.6" fill="#ee1c24"/>
<rect x="656.33" y="286.60" width="1.80" height="1.6" fill="#ee1c24"/>
<rect x="658.82" y="287.68" width="1.80" height="1.6" fill="#ee1c24"/>
<rect x="661.32" y="287.80" width="1.80" height="1.6" fill="#ee1c24"/>
<rect x="663.82" y="287.80" width="1.80" height="1.6" fill="#ee1c24"/>
<rect x="666.31" y="287.65" width="1.80" height="1.6" fill="#ee1c24"/>
<rect x="668.81" y="287.33" width="1.80" height="1.6" fill="#ee1c24"/>
<rect x="671.30" y="287.02" width="1.80" height="1.6" fill="#ee1c24"/>
<rect x="673.80" y="286.70" width="1.80" height="1.6" fill="#ee1c24"/>
<line x1="644.8" y1="240.8" x2="653.7" y2="240.8" stroke="#222" stroke-width="0.9"/>
<circle cx="649.25" cy="240.8" r="1.1" fill="#000"/>
<line x1="644.8" y1="250.0" x2="653.7" y2="250.0" stroke="#f66" stroke-width="0.9" opacity="0.8"/>
<rect x="647.95" y="249.0" width="2.6" height="2" fill="#ee1c24"/>
<text x="658.70" y="243.90" font-size="8.7" font-weight="bold" text-anchor="start" fill="#111" stroke="#111" stroke-width="0.2" >G'</text>
<text x="658.70" y="252.90" font-size="8.7" font-weight="bold" text-anchor="start" fill="#111" stroke="#111" stroke-width="0.2" >G''</text>
</svg>
</body></html>
